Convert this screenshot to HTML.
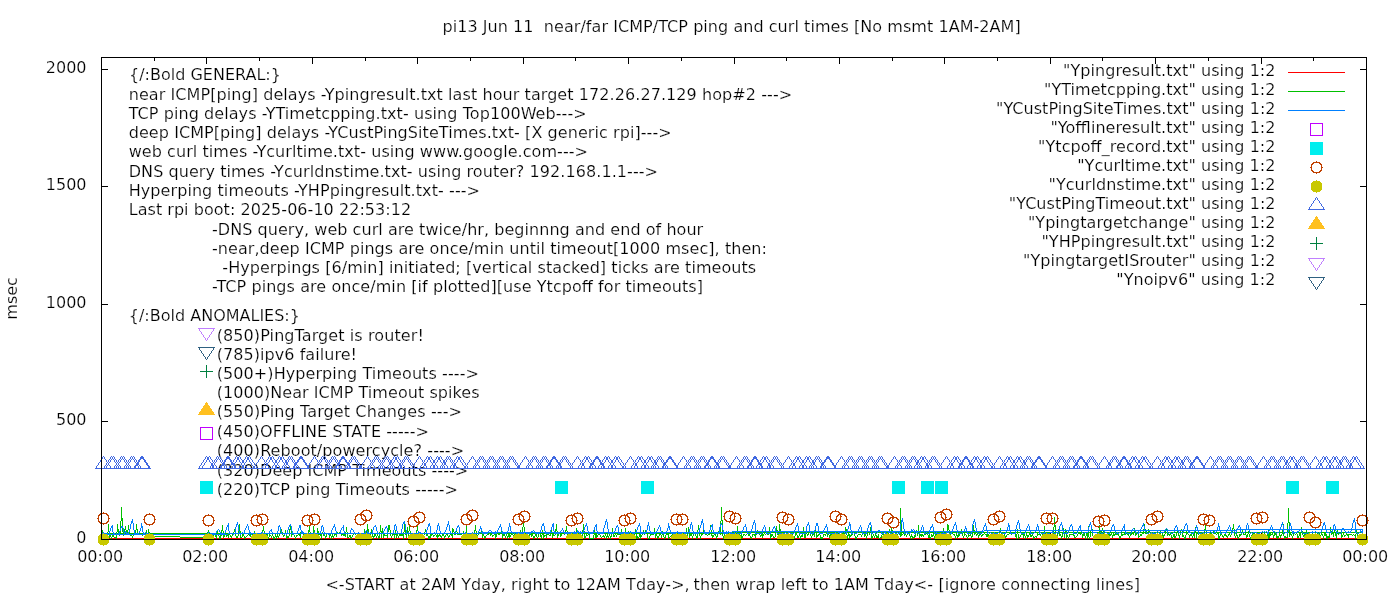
<!DOCTYPE html>
<html lang="en"><head><meta charset="utf-8"><title>pi13 ping and curl times</title>
<style>html,body{margin:0;padding:0;background:#fff}body{width:1400px;height:600px;overflow:hidden}svg{display:block}text{font-family:"DejaVu Sans","Liberation Sans",sans-serif;font-size:16px;fill:#000;white-space:pre;stroke:#fff;stroke-width:.2px}.c{shape-rendering:crispEdges}</style></head><body>
<svg width="1400" height="600" viewBox="0 0 1400 600">
<rect width="1400" height="600" fill="#fff"/>
<text x="442.5" y="32" text-anchor="start" textLength="578.2" lengthAdjust="spacing" xml:space="preserve">pi13 Jun 11  near/far ICMP/TCP ping and curl times [No msmt 1AM-2AM]</text>
<g class="c" stroke="#000" stroke-width="1" fill="none">
<path d="M101.5 539v-6M101.5 58v6M154.5 539v-3M154.5 58v3M206.5 539v-6M206.5 58v6M259.5 539v-3M259.5 58v3M312.5 539v-6M312.5 58v6M365.5 539v-3M365.5 58v3M417.5 539v-6M417.5 58v6M470.5 539v-3M470.5 58v3M523.5 539v-6M523.5 58v6M575.5 539v-3M575.5 58v3M628.5 539v-6M628.5 58v6M681.5 539v-3M681.5 58v3M734.5 539v-6M734.5 58v6M786.5 539v-3M786.5 58v3M839.5 539v-6M839.5 58v6M892.5 539v-3M892.5 58v3M944.5 539v-6M944.5 58v6M997.5 539v-3M997.5 58v3M1050.5 539v-6M1050.5 58v6M1102.5 539v-3M1102.5 58v3M1155.5 539v-6M1155.5 58v6M1208.5 539v-3M1208.5 58v3M1261.5 539v-6M1261.5 58v6M1313.5 539v-3M1313.5 58v3M1366.5 539v-6M1366.5 58v6M102 539.5h6M1366 539.5h-6M102 421.5h6M1366 421.5h-6M102 304.5h6M1366 304.5h-6M102 186.5h6M1366 186.5h-6M102 69.5h6M1366 69.5h-6"/>
</g>
<text x="86.5" y="543" text-anchor="end" xml:space="preserve">0</text>
<text x="86.5" y="425" text-anchor="end" xml:space="preserve">500</text>
<text x="86.5" y="308" text-anchor="end" xml:space="preserve">1000</text>
<text x="86.5" y="190" text-anchor="end" xml:space="preserve">1500</text>
<text x="86.5" y="73" text-anchor="end" xml:space="preserve">2000</text>
<text x="100.2" y="562" text-anchor="middle" xml:space="preserve">00:00</text>
<text x="205.2" y="562" text-anchor="middle" xml:space="preserve">02:00</text>
<text x="311.2" y="562" text-anchor="middle" xml:space="preserve">04:00</text>
<text x="416.2" y="562" text-anchor="middle" xml:space="preserve">06:00</text>
<text x="522.2" y="562" text-anchor="middle" xml:space="preserve">08:00</text>
<text x="627.2" y="562" text-anchor="middle" xml:space="preserve">10:00</text>
<text x="733.2" y="562" text-anchor="middle" xml:space="preserve">12:00</text>
<text x="838.2" y="562" text-anchor="middle" xml:space="preserve">14:00</text>
<text x="943.2" y="562" text-anchor="middle" xml:space="preserve">16:00</text>
<text x="1049.2" y="562" text-anchor="middle" xml:space="preserve">18:00</text>
<text x="1154.2" y="562" text-anchor="middle" xml:space="preserve">20:00</text>
<text x="1260.2" y="562" text-anchor="middle" xml:space="preserve">22:00</text>
<text x="1365.2" y="562" text-anchor="middle" xml:space="preserve">00:00</text>
<text transform="translate(17.2,298.4) rotate(-90)" text-anchor="middle" xml:space="preserve">msec</text>
<text y="590" xml:space="preserve"><tspan x="325.4" textLength="364.3" lengthAdjust="spacing">&lt;-START at 2AM Yday, right to 12AM Tday-&gt;,</tspan><tspan> </tspan><tspan x="693.5" textLength="446.5" lengthAdjust="spacing">then wrap left to 1AM Tday&lt;- [ignore connecting lines]</tspan></text>
<text x="129" y="80" text-anchor="start" xml:space="preserve">{/:Bold GENERAL:}</text>
<text x="128.7" y="100" text-anchor="start" textLength="663.5" lengthAdjust="spacing" xml:space="preserve">near ICMP[ping] delays -Ypingresult.txt last hour target 172.26.27.129 hop#2 ---&gt;</text>
<text x="128.7" y="119" text-anchor="start" textLength="458.0" lengthAdjust="spacing" xml:space="preserve">TCP ping delays -YTimetcpping.txt- using Top100Web---&gt;</text>
<text x="128.7" y="138" text-anchor="start" textLength="543.0" lengthAdjust="spacing" xml:space="preserve">deep ICMP[ping] delays -YCustPingSiteTimes.txt- [X generic rpi]---&gt;</text>
<text x="128.7" y="157" text-anchor="start" textLength="459.3" lengthAdjust="spacing" xml:space="preserve">web curl times -Ycurltime.txt- using www.google.com---&gt;</text>
<text x="128.7" y="177" text-anchor="start" textLength="529.3" lengthAdjust="spacing" xml:space="preserve">DNS query times -Ycurldnstime.txt- using router? 192.168.1.1---&gt;</text>
<text x="128.7" y="196" text-anchor="start" textLength="351.3" lengthAdjust="spacing" xml:space="preserve">Hyperping timeouts -YHPpingresult.txt- ---&gt;</text>
<text x="128.7" y="215" text-anchor="start" textLength="282.4" lengthAdjust="spacing" xml:space="preserve">Last rpi boot: 2025-06-10 22:53:12</text>
<text x="212" y="235" text-anchor="start" textLength="491.2" lengthAdjust="spacing" xml:space="preserve">-DNS query, web curl are twice/hr, beginnng and end of hour</text>
<text x="212" y="254" text-anchor="start" textLength="554.9" lengthAdjust="spacing" xml:space="preserve">-near,deep ICMP pings are once/min until timeout[1000 msec], then:</text>
<text x="212" y="273" text-anchor="start" textLength="544.2" lengthAdjust="spacing" xml:space="preserve">  -Hyperpings [6/min] initiated; [vertical stacked] ticks are timeouts</text>
<text x="212" y="292" text-anchor="start" textLength="491.0" lengthAdjust="spacing" xml:space="preserve">-TCP pings are once/min [if plotted][use Ytcpoff for timeouts]</text>
<text x="128.8" y="321" text-anchor="start" xml:space="preserve">{/:Bold ANOMALIES:}</text>
<text x="216.7" y="341" text-anchor="start" textLength="207.1" lengthAdjust="spacing" xml:space="preserve">(850)PingTarget is router!</text>
<text x="216.7" y="359.7" text-anchor="start" textLength="140.3" lengthAdjust="spacing" xml:space="preserve">(785)ipv6 failure!</text>
<text x="216.7" y="379" text-anchor="start" textLength="262.2" lengthAdjust="spacing" xml:space="preserve">(500+)Hyperping Timeouts ----&gt;</text>
<text x="216.7" y="398" text-anchor="start" textLength="262.8" lengthAdjust="spacing" xml:space="preserve">(1000)Near ICMP Timeout spikes</text>
<text x="216.7" y="417.4" text-anchor="start" textLength="245.3" lengthAdjust="spacing" xml:space="preserve">(550)Ping Target Changes ---&gt;</text>
<text x="216.7" y="437.4" text-anchor="start" textLength="212.2" lengthAdjust="spacing" xml:space="preserve">(450)OFFLINE STATE -----&gt;</text>
<text x="216.7" y="456.4" text-anchor="start" textLength="247.4" lengthAdjust="spacing" xml:space="preserve">(400)Reboot/powercycle? ----&gt;</text>
<text x="216.7" y="476.4" text-anchor="start" textLength="251.5" lengthAdjust="spacing" xml:space="preserve">(320)Deep ICMP Timeouts ----&gt;</text>
<text x="216.7" y="495.4" text-anchor="start" textLength="241.2" lengthAdjust="spacing" xml:space="preserve">(220)TCP ping Timeouts -----&gt;</text>
<path class="c" fill="#ff0000" d="M101 538h1262v1h-1262z"/>
<path class="c" fill="#00c000" d="M380 531h3v1h-3zM776 531h3v1h-3zM868 531h3v1h-3zM1099 531h3v1h-3zM478 532h4v1h-4zM520 532h3v1h-3zM644 532h3v1h-3zM688 532h3v1h-3zM718 532h3v1h-3zM732 532h631v1h-631zM101 533h631v1h-631zM766 533h3v1h-3zM804 533h3v1h-3zM826 533h3v1h-3zM841 533h4v1h-4zM862 533h3v1h-3zM898 533h4v1h-4zM907 533h3v1h-3zM941 533h3v1h-3zM1012 533h3v1h-3zM1044 533h3v1h-3zM1064 533h3v1h-3zM1078 533h4v1h-4zM1086 533h3v1h-3zM1131 533h3v1h-3zM1135 533h3v1h-3zM1145 533h3v1h-3zM1196 533h3v1h-3zM1213 533h3v1h-3zM1268 533h3v1h-3zM1331 533h3v1h-3zM1337 533h5v1h-5zM103 534h5v1h-5zM133 534h3v1h-3zM143 534h3v1h-3zM147 534h3v1h-3zM212 534h3v1h-3zM227 534h3v1h-3zM248 534h5v1h-5zM291 534h3v1h-3zM298 534h3v1h-3zM318 534h4v1h-4zM334 534h3v1h-3zM341 534h5v1h-5zM392 534h6v1h-6zM399 534h5v1h-5zM418 534h4v1h-4zM430 534h3v1h-3zM450 534h3v1h-3zM457 534h5v1h-5zM464 534h3v1h-3zM494 534h3v1h-3zM502 534h3v1h-3zM524 534h4v1h-4zM529 534h4v1h-4zM546 534h3v1h-3zM594 534h3v1h-3zM617 534h4v1h-4zM624 534h4v1h-4zM631 534h4v1h-4zM650 534h4v1h-4zM666 534h3v1h-3zM674 534h5v1h-5zM689 534h3v1h-3zM731 534h6v1h-6zM752 534h5v1h-5zM761 534h3v1h-3zM770 534h3v1h-3zM787 534h3v1h-3zM812 534h3v1h-3zM823 534h3v1h-3zM838 534h3v1h-3zM858 534h3v1h-3zM895 534h3v1h-3zM899 534h4v1h-4zM919 534h4v1h-4zM935 534h3v1h-3zM939 534h5v1h-5zM985 534h4v1h-4zM1021 534h4v1h-4zM1037 534h4v1h-4zM1042 534h5v1h-5zM1051 534h3v1h-3zM1069 534h5v1h-5zM1082 534h3v1h-3zM1086 534h3v1h-3zM1107 534h5v1h-5zM1113 534h6v1h-6zM1121 534h5v1h-5zM1150 534h3v1h-3zM1158 534h3v1h-3zM1167 534h4v1h-4zM1239 534h3v1h-3zM1243 534h3v1h-3zM1252 534h3v1h-3zM1267 534h6v1h-6zM1274 534h3v1h-3zM1289 534h3v1h-3zM1317 534h3v1h-3zM1324 534h3v1h-3zM1346 534h6v1h-6zM103 535h5v1h-5zM147 535h3v1h-3zM226 535h3v1h-3zM255 535h4v1h-4zM343 535h3v1h-3zM383 535h5v1h-5zM399 535h5v1h-5zM436 535h5v1h-5zM464 535h3v1h-3zM502 535h3v1h-3zM508 535h3v1h-3zM543 535h4v1h-4zM552 535h3v1h-3zM595 535h3v1h-3zM639 535h3v1h-3zM689 535h3v1h-3zM711 535h3v1h-3zM724 535h3v1h-3zM760 535h4v1h-4zM770 535h3v1h-3zM816 535h3v1h-3zM829 535h3v1h-3zM835 535h3v1h-3zM847 535h5v1h-5zM919 535h5v1h-5zM931 535h3v1h-3zM935 535h5v1h-5zM956 535h4v1h-4zM968 535h3v1h-3zM986 535h3v1h-3zM993 535h4v1h-4zM1026 535h3v1h-3zM1030 535h3v1h-3zM1042 535h5v1h-5zM1050 535h4v1h-4zM1082 535h3v1h-3zM1086 535h3v1h-3zM1108 535h3v1h-3zM1112 535h3v1h-3zM1152 535h3v1h-3zM1162 535h3v1h-3zM1189 535h3v1h-3zM1224 535h3v1h-3zM1253 535h3v1h-3zM1261 535h5v1h-5zM1267 535h4v1h-4zM1279 535h3v1h-3zM1303 535h3v1h-3zM1324 535h3v1h-3zM255 536h4v1h-4zM275 536h4v1h-4zM286 536h3v1h-3zM331 536h3v1h-3zM361 536h3v1h-3zM372 536h3v1h-3zM428 536h3v1h-3zM436 536h3v1h-3zM507 536h4v1h-4zM567 536h4v1h-4zM595 536h3v1h-3zM602 536h3v1h-3zM606 536h3v1h-3zM639 536h3v1h-3zM723 536h5v1h-5zM740 536h3v1h-3zM800 536h3v1h-3zM876 536h3v1h-3zM910 536h3v1h-3zM934 536h3v1h-3zM989 536h4v1h-4zM1050 536h4v1h-4zM1173 536h3v1h-3zM1199 536h3v1h-3zM1267 536h3v1h-3zM1276 536h3v1h-3zM1326 536h4v1h-4zM114 537h3v1h-3zM286 537h3v1h-3zM310 537h3v1h-3zM413 537h3v1h-3zM428 537h3v1h-3zM636 537h3v1h-3zM820 537h3v1h-3zM876 537h3v1h-3zM912 537h3v1h-3zM928 537h3v1h-3zM1276 537h3v1h-3zM1284 537h4v1h-4zM1326 537h4v1h-4zM589 538h5v1h-5zM726 538h3v1h-3zM820 538h3v1h-3zM1093 538h3v1h-3zM101 534h1v4h-1zM102 530h1v3h-1zM103 536h1v2h-1zM105 536h1v1h-1zM107 532h1v1h-1zM107 536h1v3h-1zM108 524h1v8h-1zM109 531h1v2h-1zM109 534h1v4h-1zM110 535h1v2h-1zM111 537h1v2h-1zM112 534h1v3h-1zM113 535h1v2h-1zM116 532h1v1h-1zM116 534h1v3h-1zM116 538h1v1h-1zM117 524h1v8h-1zM118 529h1v4h-1zM119 534h1v2h-1zM120 521h1v12h-1zM120 534h1v1h-1zM121 507h1v14h-1zM122 518h1v14h-1zM123 532h1v1h-1zM123 534h1v2h-1zM124 529h1v4h-1zM125 526h1v4h-1zM126 530h1v3h-1zM126 534h1v1h-1zM127 530h1v3h-1zM127 534h1v1h-1zM128 525h1v5h-1zM129 530h1v3h-1zM129 534h1v1h-1zM130 535h1v1h-1zM131 535h1v1h-1zM132 536h1v2h-1zM133 535h1v1h-1zM135 530h1v3h-1zM136 524h1v6h-1zM137 529h1v4h-1zM138 534h1v1h-1zM141 534h1v1h-1zM142 535h1v1h-1zM146 530h1v3h-1zM147 536h1v1h-1zM148 529h1v4h-1zM149 532h1v1h-1zM206 535h1v2h-1zM207 532h1v1h-1zM207 534h1v1h-1zM208 530h1v3h-1zM209 534h1v5h-1zM210 534h1v2h-1zM212 535h1v1h-1zM213 535h1v4h-1zM215 535h1v2h-1zM216 535h1v4h-1zM217 531h1v2h-1zM217 534h1v1h-1zM218 534h1v2h-1zM219 536h1v3h-1zM220 534h1v5h-1zM221 530h1v3h-1zM221 534h1v2h-1zM222 525h1v6h-1zM223 531h1v2h-1zM223 534h1v4h-1zM224 535h1v2h-1zM225 534h1v1h-1zM226 536h1v1h-1zM228 536h1v2h-1zM230 535h1v2h-1zM231 536h1v2h-1zM232 534h1v2h-1zM233 532h1v1h-1zM234 529h1v3h-1zM235 531h1v2h-1zM235 534h1v2h-1zM236 536h1v2h-1zM237 536h1v2h-1zM238 529h1v4h-1zM238 534h1v2h-1zM239 524h1v7h-1zM240 531h1v2h-1zM240 534h1v4h-1zM241 537h1v1h-1zM242 534h1v3h-1zM243 534h1v2h-1zM244 536h1v3h-1zM245 537h1v1h-1zM246 536h1v1h-1zM247 535h1v1h-1zM249 530h1v3h-1zM249 535h1v1h-1zM250 535h1v2h-1zM254 531h1v2h-1zM254 534h1v1h-1zM255 537h1v2h-1zM256 534h1v1h-1zM259 537h1v2h-1zM260 534h1v3h-1zM261 536h1v2h-1zM262 530h1v3h-1zM262 534h1v2h-1zM263 526h1v5h-1zM264 531h1v2h-1zM264 534h1v2h-1zM265 536h1v2h-1zM266 534h1v2h-1zM267 534h1v3h-1zM268 537h1v2h-1zM269 534h1v3h-1zM270 535h1v1h-1zM271 536h1v2h-1zM272 534h1v2h-1zM273 536h1v3h-1zM274 537h1v2h-1zM275 534h1v2h-1zM276 537h1v2h-1zM277 534h1v2h-1zM278 537h1v1h-1zM279 534h1v2h-1zM280 531h1v2h-1zM281 529h1v3h-1zM282 532h1v1h-1zM282 534h1v1h-1zM283 535h1v2h-1zM284 534h1v2h-1zM285 530h1v3h-1zM286 534h1v2h-1zM286 538h1v1h-1zM289 529h1v4h-1zM289 534h1v2h-1zM290 524h1v6h-1zM291 530h1v3h-1zM291 535h1v2h-1zM294 535h1v2h-1zM295 537h1v2h-1zM296 535h1v2h-1zM297 535h1v1h-1zM299 535h1v1h-1zM300 532h1v1h-1zM300 535h1v3h-1zM301 530h1v2h-1zM302 531h1v2h-1zM303 534h1v1h-1zM304 534h1v1h-1zM305 535h1v3h-1zM306 534h1v2h-1zM307 534h1v1h-1zM308 530h1v3h-1zM309 525h1v7h-1zM310 532h1v1h-1zM310 534h1v3h-1zM310 538h1v1h-1zM312 534h1v3h-1zM312 538h1v1h-1zM313 526h1v7h-1zM314 530h1v3h-1zM314 534h1v4h-1zM315 538h1v1h-1zM316 534h1v4h-1zM317 528h1v5h-1zM318 531h1v2h-1zM320 535h1v1h-1zM321 535h1v4h-1zM322 532h1v1h-1zM323 534h1v2h-1zM324 534h1v2h-1zM325 536h1v3h-1zM326 534h1v3h-1zM328 534h1v1h-1zM329 535h1v3h-1zM330 534h1v2h-1zM331 537h1v2h-1zM332 534h1v2h-1zM333 537h1v1h-1zM334 535h1v1h-1zM336 531h1v2h-1zM336 535h1v2h-1zM337 532h1v1h-1zM339 532h1v1h-1zM341 535h1v1h-1zM345 532h1v1h-1zM345 536h1v1h-1zM346 527h1v5h-1zM347 532h1v1h-1zM347 534h1v4h-1zM348 537h1v1h-1zM349 535h1v2h-1zM350 535h1v3h-1zM351 537h1v2h-1zM352 535h1v2h-1zM353 534h1v1h-1zM354 532h1v1h-1zM355 534h1v1h-1zM356 535h1v2h-1zM357 534h1v2h-1zM358 536h1v3h-1zM359 536h1v2h-1zM360 534h1v2h-1zM361 537h1v1h-1zM362 535h1v1h-1zM363 534h1v2h-1zM363 537h1v2h-1zM364 529h1v4h-1zM365 534h1v4h-1zM366 531h1v2h-1zM366 534h1v4h-1zM367 524h1v7h-1zM368 529h1v4h-1zM368 534h1v1h-1zM369 535h1v2h-1zM370 532h1v1h-1zM370 534h1v2h-1zM371 529h1v4h-1zM372 534h1v2h-1zM373 537h1v2h-1zM374 534h1v2h-1zM375 534h1v2h-1zM376 536h1v2h-1zM377 534h1v2h-1zM378 536h1v3h-1zM379 532h1v1h-1zM379 534h1v4h-1zM380 525h1v6h-1zM381 532h1v1h-1zM381 534h1v4h-1zM382 528h1v3h-1zM382 532h1v1h-1zM383 534h1v1h-1zM383 536h1v2h-1zM384 534h1v1h-1zM387 532h1v1h-1zM387 534h1v1h-1zM387 536h1v2h-1zM388 525h1v7h-1zM389 525h1v5h-1zM390 530h1v3h-1zM390 534h1v2h-1zM391 536h1v2h-1zM392 535h1v1h-1zM394 535h1v4h-1zM395 530h1v3h-1zM396 535h1v3h-1zM397 535h1v1h-1zM398 536h1v2h-1zM403 532h1v1h-1zM403 536h1v3h-1zM404 524h1v8h-1zM405 529h1v4h-1zM405 534h1v1h-1zM406 534h1v4h-1zM407 527h1v6h-1zM408 531h1v2h-1zM408 534h1v4h-1zM409 524h1v7h-1zM410 531h1v2h-1zM410 534h1v5h-1zM411 537h1v1h-1zM412 535h1v2h-1zM413 538h1v1h-1zM415 536h1v1h-1zM415 538h1v1h-1zM416 530h1v3h-1zM416 534h1v2h-1zM417 524h1v7h-1zM418 531h1v2h-1zM418 535h1v4h-1zM419 535h1v1h-1zM421 535h1v1h-1zM422 536h1v2h-1zM423 535h1v3h-1zM424 532h1v1h-1zM424 534h1v1h-1zM425 529h1v3h-1zM426 532h1v1h-1zM426 534h1v2h-1zM427 534h1v2h-1zM428 538h1v1h-1zM429 538h1v1h-1zM430 535h1v1h-1zM431 535h1v1h-1zM433 535h1v2h-1zM434 535h1v1h-1zM435 534h1v1h-1zM437 534h1v1h-1zM437 537h1v2h-1zM439 534h1v1h-1zM440 536h1v1h-1zM441 536h1v2h-1zM442 534h1v2h-1zM443 534h1v2h-1zM444 536h1v3h-1zM445 535h1v2h-1zM446 534h1v1h-1zM447 534h1v2h-1zM448 536h1v2h-1zM449 535h1v2h-1zM451 535h1v1h-1zM452 528h1v5h-1zM452 535h1v3h-1zM453 529h1v3h-1zM454 532h1v1h-1zM454 534h1v1h-1zM455 532h1v1h-1zM455 534h1v1h-1zM456 529h1v3h-1zM457 532h1v1h-1zM463 531h1v2h-1zM465 532h1v1h-1zM465 536h1v2h-1zM466 525h1v8h-1zM467 536h1v1h-1zM468 535h1v1h-1zM469 536h1v1h-1zM470 534h1v2h-1zM471 534h1v2h-1zM472 536h1v3h-1zM473 534h1v3h-1zM474 530h1v3h-1zM474 534h1v2h-1zM475 525h1v6h-1zM476 531h1v2h-1zM476 534h1v4h-1zM477 535h1v3h-1zM478 531h1v1h-1zM478 534h1v1h-1zM481 530h1v2h-1zM482 534h1v4h-1zM483 534h1v2h-1zM484 536h1v3h-1zM485 536h1v2h-1zM486 535h1v1h-1zM487 534h1v1h-1zM488 534h1v1h-1zM490 534h1v2h-1zM491 534h1v1h-1zM492 535h1v2h-1zM493 535h1v1h-1zM495 535h1v4h-1zM496 535h1v2h-1zM498 534h1v1h-1zM499 534h1v1h-1zM501 531h1v2h-1zM502 536h1v3h-1zM505 536h1v2h-1zM506 534h1v2h-1zM507 537h1v2h-1zM508 534h1v1h-1zM509 534h1v1h-1zM509 537h1v1h-1zM511 534h1v1h-1zM512 534h1v1h-1zM513 535h1v2h-1zM514 534h1v2h-1zM517 534h1v2h-1zM518 536h1v3h-1zM519 534h1v4h-1zM520 530h1v2h-1zM521 534h1v1h-1zM522 527h1v5h-1zM522 534h1v1h-1zM523 518h1v9h-1zM524 527h1v6h-1zM524 535h1v3h-1zM525 535h1v1h-1zM527 535h1v1h-1zM528 536h1v2h-1zM529 535h1v1h-1zM531 535h1v2h-1zM532 535h1v1h-1zM533 536h1v3h-1zM534 536h1v2h-1zM535 534h1v2h-1zM536 534h1v3h-1zM537 537h1v2h-1zM538 534h1v3h-1zM540 534h1v3h-1zM541 535h1v4h-1zM542 530h1v3h-1zM542 534h1v1h-1zM543 534h1v1h-1zM543 536h1v3h-1zM544 536h1v1h-1zM546 536h1v2h-1zM549 535h1v1h-1zM550 534h1v2h-1zM551 530h1v3h-1zM552 534h1v1h-1zM552 536h1v2h-1zM553 534h1v1h-1zM555 529h1v4h-1zM555 534h1v1h-1zM556 524h1v7h-1zM557 531h1v2h-1zM557 534h1v4h-1zM558 534h1v2h-1zM560 534h1v3h-1zM561 534h1v2h-1zM562 532h1v1h-1zM563 530h1v2h-1zM564 532h1v1h-1zM564 534h1v1h-1zM565 530h1v3h-1zM566 526h1v5h-1zM567 531h1v2h-1zM567 534h1v2h-1zM568 537h1v2h-1zM569 534h1v2h-1zM570 537h1v1h-1zM571 534h1v2h-1zM572 534h1v1h-1zM574 534h1v4h-1zM575 534h1v5h-1zM576 528h1v5h-1zM577 531h1v2h-1zM577 534h1v1h-1zM580 534h1v1h-1zM581 535h1v2h-1zM582 530h1v3h-1zM582 534h1v5h-1zM583 524h1v7h-1zM584 531h1v2h-1zM584 534h1v5h-1zM585 536h1v2h-1zM586 534h1v2h-1zM587 535h1v1h-1zM588 534h1v1h-1zM589 534h1v4h-1zM593 535h1v3h-1zM594 530h1v3h-1zM595 537h1v1h-1zM596 537h1v1h-1zM598 534h1v1h-1zM599 534h1v1h-1zM600 535h1v2h-1zM601 537h1v1h-1zM603 535h1v1h-1zM604 537h1v1h-1zM605 534h1v2h-1zM606 537h1v2h-1zM607 534h1v2h-1zM608 537h1v1h-1zM609 534h1v2h-1zM610 536h1v3h-1zM611 532h1v1h-1zM611 534h1v3h-1zM612 528h1v4h-1zM613 532h1v1h-1zM613 534h1v3h-1zM614 535h1v2h-1zM615 534h1v1h-1zM616 535h1v2h-1zM618 532h1v1h-1zM620 535h1v1h-1zM621 529h1v4h-1zM622 532h1v1h-1zM622 534h1v2h-1zM623 536h1v3h-1zM624 535h1v1h-1zM625 528h1v5h-1zM626 535h1v4h-1zM627 535h1v1h-1zM628 531h1v2h-1zM629 534h1v2h-1zM630 536h1v3h-1zM631 535h1v1h-1zM633 535h1v2h-1zM634 535h1v4h-1zM635 529h1v4h-1zM636 534h1v3h-1zM636 538h1v1h-1zM637 536h1v1h-1zM638 538h1v1h-1zM639 534h1v1h-1zM640 534h1v1h-1zM640 537h1v2h-1zM642 532h1v1h-1zM642 534h1v1h-1zM643 530h1v2h-1zM644 534h1v1h-1zM645 530h1v2h-1zM647 534h1v4h-1zM648 538h1v1h-1zM649 536h1v3h-1zM650 535h1v1h-1zM654 528h1v5h-1zM655 534h1v4h-1zM656 534h1v2h-1zM657 536h1v3h-1zM658 536h1v2h-1zM659 534h1v2h-1zM660 534h1v1h-1zM661 535h1v3h-1zM662 531h1v2h-1zM662 534h1v1h-1zM663 534h1v3h-1zM664 537h1v2h-1zM665 535h1v3h-1zM668 535h1v4h-1zM669 537h1v1h-1zM670 536h1v1h-1zM671 535h1v1h-1zM672 534h1v2h-1zM673 536h1v2h-1zM674 535h1v1h-1zM676 535h1v3h-1zM678 535h1v1h-1zM679 536h1v2h-1zM680 534h1v2h-1zM682 534h1v1h-1zM684 534h1v1h-1zM685 532h1v1h-1zM685 534h1v1h-1zM686 528h1v5h-1zM687 534h1v4h-1zM688 527h1v5h-1zM689 536h1v2h-1zM692 536h1v3h-1zM693 534h1v2h-1zM695 534h1v2h-1zM696 536h1v3h-1zM697 530h1v3h-1zM697 534h1v4h-1zM698 525h1v5h-1zM699 530h1v3h-1zM699 534h1v2h-1zM700 536h1v3h-1zM701 534h1v2h-1zM702 534h1v1h-1zM703 530h1v3h-1zM704 532h1v1h-1zM705 534h1v1h-1zM706 534h1v1h-1zM707 535h1v1h-1zM708 534h1v1h-1zM709 530h1v3h-1zM709 534h1v1h-1zM710 525h1v5h-1zM711 530h1v3h-1zM711 534h1v1h-1zM712 536h1v2h-1zM713 536h1v1h-1zM714 534h1v1h-1zM715 534h1v2h-1zM716 536h1v3h-1zM717 534h1v3h-1zM718 531h1v1h-1zM720 521h1v11h-1zM720 534h1v1h-1zM721 507h1v14h-1zM722 520h1v13h-1zM722 534h1v2h-1zM723 537h1v2h-1zM724 534h1v1h-1zM726 534h1v1h-1zM726 537h1v1h-1zM727 537h1v1h-1zM729 537h1v1h-1zM730 535h1v2h-1zM734 535h1v1h-1zM736 533h1v1h-1zM736 535h1v2h-1zM737 526h1v6h-1zM738 531h1v1h-1zM738 533h1v4h-1zM739 533h1v2h-1zM740 535h1v1h-1zM741 534h1v2h-1zM741 537h1v2h-1zM742 537h1v1h-1zM743 534h1v2h-1zM744 534h1v1h-1zM745 535h1v1h-1zM746 534h1v1h-1zM747 533h1v1h-1zM748 534h1v2h-1zM749 534h1v2h-1zM750 536h1v2h-1zM751 537h1v2h-1zM752 535h1v2h-1zM754 535h1v1h-1zM755 535h1v3h-1zM756 533h1v1h-1zM757 530h1v2h-1zM758 533h1v1h-1zM759 534h1v1h-1zM760 536h1v1h-1zM761 533h1v1h-1zM762 529h1v3h-1zM762 533h1v1h-1zM762 536h1v2h-1zM764 533h1v1h-1zM765 534h1v1h-1zM767 534h1v1h-1zM768 531h1v1h-1zM768 534h1v1h-1zM769 527h1v4h-1zM770 531h1v1h-1zM770 533h1v1h-1zM770 536h1v3h-1zM771 536h1v1h-1zM773 536h1v2h-1zM774 537h1v1h-1zM775 533h1v4h-1zM776 526h1v5h-1zM777 530h1v1h-1zM777 533h1v2h-1zM778 533h1v5h-1zM779 524h1v7h-1zM780 529h1v3h-1zM780 533h1v3h-1zM781 536h1v2h-1zM782 534h1v2h-1zM783 536h1v2h-1zM784 534h1v3h-1zM785 537h1v2h-1zM786 535h1v2h-1zM787 533h1v1h-1zM790 533h1v1h-1zM791 534h1v2h-1zM792 534h1v2h-1zM793 536h1v3h-1zM794 536h1v3h-1zM795 533h1v3h-1zM796 533h1v2h-1zM797 535h1v3h-1zM798 536h1v2h-1zM799 533h1v3h-1zM800 537h1v2h-1zM801 535h1v1h-1zM802 533h1v3h-1zM803 527h1v5h-1zM804 534h1v4h-1zM805 534h1v4h-1zM806 528h1v4h-1zM807 534h1v2h-1zM808 531h1v1h-1zM808 533h1v2h-1zM809 527h1v4h-1zM810 531h1v1h-1zM810 533h1v3h-1zM811 536h1v2h-1zM812 535h1v1h-1zM813 533h1v1h-1zM814 533h1v1h-1zM814 535h1v2h-1zM815 526h1v6h-1zM816 533h1v2h-1zM816 536h1v2h-1zM817 536h1v1h-1zM818 534h1v1h-1zM819 531h1v1h-1zM819 533h1v2h-1zM820 535h1v2h-1zM823 535h1v2h-1zM825 535h1v1h-1zM826 531h1v1h-1zM827 534h1v3h-1zM828 534h1v1h-1zM829 536h1v2h-1zM830 534h1v1h-1zM831 534h1v1h-1zM832 536h1v2h-1zM833 533h1v3h-1zM834 533h1v2h-1zM835 536h1v3h-1zM836 536h1v1h-1zM838 533h1v1h-1zM840 535h1v1h-1zM842 534h1v3h-1zM844 531h1v1h-1zM845 527h1v4h-1zM846 529h1v3h-1zM846 533h1v2h-1zM847 536h1v3h-1zM848 533h1v2h-1zM849 534h1v1h-1zM849 536h1v3h-1zM850 536h1v1h-1zM851 534h1v1h-1zM852 533h1v2h-1zM853 531h1v1h-1zM854 533h1v3h-1zM855 536h1v3h-1zM856 537h1v2h-1zM857 535h1v2h-1zM861 535h1v2h-1zM862 534h1v1h-1zM864 534h1v3h-1zM865 534h1v2h-1zM866 536h1v3h-1zM867 533h1v3h-1zM869 533h1v2h-1zM870 527h1v4h-1zM871 533h1v6h-1zM872 536h1v2h-1zM873 534h1v2h-1zM874 536h1v2h-1zM875 533h1v3h-1zM876 535h1v1h-1zM878 534h1v2h-1zM879 538h1v1h-1zM880 537h1v1h-1zM881 535h1v3h-1zM882 533h1v2h-1zM883 534h1v3h-1zM884 537h1v2h-1zM885 533h1v5h-1zM886 533h1v3h-1zM887 536h1v3h-1zM888 533h1v3h-1zM889 529h1v3h-1zM890 531h1v1h-1zM890 533h1v2h-1zM891 527h1v4h-1zM892 530h1v2h-1zM892 533h1v1h-1zM893 533h1v5h-1zM894 535h1v2h-1zM895 533h1v1h-1zM900 508h1v24h-1zM900 535h1v2h-1zM901 522h1v10h-1zM901 535h1v1h-1zM903 533h1v1h-1zM904 534h1v2h-1zM905 533h1v2h-1zM906 535h1v2h-1zM907 534h1v1h-1zM909 534h1v2h-1zM910 537h1v2h-1zM911 534h1v2h-1zM912 538h1v1h-1zM914 535h1v2h-1zM915 533h1v4h-1zM916 530h1v2h-1zM917 531h1v1h-1zM917 533h1v3h-1zM918 525h1v6h-1zM919 531h1v1h-1zM919 533h1v1h-1zM919 536h1v2h-1zM921 536h1v1h-1zM923 536h1v1h-1zM924 533h1v2h-1zM925 534h1v1h-1zM926 533h1v1h-1zM927 533h1v2h-1zM928 535h1v2h-1zM929 531h1v1h-1zM929 533h1v4h-1zM930 538h1v1h-1zM931 534h1v1h-1zM931 536h1v1h-1zM932 536h1v1h-1zM933 533h1v2h-1zM934 537h1v2h-1zM936 531h1v1h-1zM936 533h1v1h-1zM936 537h1v1h-1zM937 533h1v1h-1zM938 536h1v2h-1zM939 533h1v1h-1zM942 535h1v3h-1zM943 528h1v4h-1zM943 535h1v1h-1zM944 536h1v2h-1zM945 538h1v1h-1zM946 531h1v1h-1zM946 533h1v5h-1zM947 524h1v7h-1zM948 525h1v5h-1zM949 530h1v2h-1zM949 533h1v2h-1zM950 534h1v3h-1zM951 533h1v1h-1zM952 533h1v1h-1zM953 534h1v1h-1zM954 534h1v2h-1zM955 536h1v3h-1zM956 533h1v2h-1zM957 536h1v2h-1zM958 533h1v2h-1zM958 536h1v1h-1zM959 534h1v1h-1zM960 533h1v1h-1zM961 529h1v3h-1zM962 533h1v3h-1zM963 536h1v2h-1zM964 533h1v3h-1zM965 534h1v1h-1zM966 535h1v2h-1zM967 537h1v2h-1zM968 534h1v1h-1zM968 536h1v1h-1zM970 534h1v1h-1zM971 536h1v2h-1zM972 531h1v1h-1zM972 533h1v4h-1zM973 525h1v6h-1zM974 530h1v2h-1zM974 533h1v2h-1zM975 533h1v1h-1zM976 534h1v2h-1zM977 533h1v2h-1zM978 535h1v3h-1zM979 534h1v2h-1zM980 533h1v2h-1zM981 535h1v2h-1zM982 534h1v2h-1zM983 534h1v1h-1zM984 533h1v1h-1zM986 536h1v1h-1zM987 530h1v2h-1zM987 533h1v1h-1zM987 536h1v1h-1zM989 537h1v2h-1zM990 534h1v2h-1zM991 537h1v1h-1zM992 537h1v1h-1zM993 533h1v2h-1zM994 534h1v1h-1zM994 536h1v2h-1zM995 536h1v1h-1zM996 534h1v1h-1zM997 536h1v3h-1zM998 536h1v2h-1zM999 533h1v3h-1zM1000 528h1v4h-1zM1001 533h1v4h-1zM1002 534h1v2h-1zM1003 536h1v2h-1zM1004 534h1v2h-1zM1005 536h1v2h-1zM1006 535h1v2h-1zM1007 534h1v1h-1zM1008 534h1v1h-1zM1009 533h1v1h-1zM1010 533h1v1h-1zM1011 534h1v1h-1zM1015 534h1v3h-1zM1016 534h1v5h-1zM1017 529h1v3h-1zM1017 533h1v1h-1zM1018 534h1v5h-1zM1019 537h1v1h-1zM1020 535h1v2h-1zM1021 533h1v1h-1zM1022 533h1v1h-1zM1023 535h1v3h-1zM1024 535h1v1h-1zM1025 536h1v3h-1zM1026 533h1v2h-1zM1027 536h1v2h-1zM1028 536h1v1h-1zM1029 533h1v2h-1zM1030 534h1v1h-1zM1030 536h1v1h-1zM1031 536h1v1h-1zM1032 533h1v2h-1zM1033 536h1v3h-1zM1034 537h1v1h-1zM1035 536h1v1h-1zM1036 536h1v2h-1zM1037 533h1v1h-1zM1037 535h1v1h-1zM1040 535h1v1h-1zM1041 536h1v2h-1zM1044 526h1v6h-1zM1044 536h1v2h-1zM1045 536h1v3h-1zM1047 536h1v3h-1zM1048 533h1v3h-1zM1049 533h1v2h-1zM1050 537h1v1h-1zM1052 530h1v2h-1zM1052 533h1v1h-1zM1052 537h1v2h-1zM1053 527h1v5h-1zM1053 533h1v1h-1zM1054 517h1v10h-1zM1055 525h1v7h-1zM1055 533h1v2h-1zM1056 535h1v3h-1zM1057 533h1v4h-1zM1058 529h1v3h-1zM1059 533h1v3h-1zM1060 534h1v2h-1zM1061 536h1v3h-1zM1062 533h1v4h-1zM1063 528h1v4h-1zM1064 534h1v4h-1zM1065 529h1v3h-1zM1066 531h1v1h-1zM1066 534h1v5h-1zM1067 535h1v2h-1zM1068 537h1v2h-1zM1069 535h1v2h-1zM1073 533h1v1h-1zM1073 535h1v1h-1zM1074 535h1v3h-1zM1075 537h1v1h-1zM1076 536h1v1h-1zM1077 534h1v2h-1zM1080 534h1v1h-1zM1081 530h1v2h-1zM1082 536h1v2h-1zM1083 533h1v1h-1zM1084 533h1v1h-1zM1085 536h1v3h-1zM1087 536h1v3h-1zM1088 526h1v6h-1zM1088 536h1v1h-1zM1089 537h1v2h-1zM1090 530h1v2h-1zM1090 533h1v4h-1zM1091 525h1v5h-1zM1092 529h1v3h-1zM1092 533h1v3h-1zM1093 536h1v2h-1zM1095 537h1v1h-1zM1096 537h1v1h-1zM1097 538h1v1h-1zM1098 533h1v5h-1zM1099 525h1v6h-1zM1100 530h1v1h-1zM1100 533h1v2h-1zM1101 533h1v1h-1zM1102 528h1v3h-1zM1103 531h1v1h-1zM1103 533h1v1h-1zM1104 534h1v2h-1zM1105 536h1v2h-1zM1106 535h1v3h-1zM1107 533h1v1h-1zM1108 536h1v1h-1zM1109 533h1v1h-1zM1111 533h1v1h-1zM1112 536h1v2h-1zM1113 533h1v1h-1zM1115 533h1v1h-1zM1117 533h1v1h-1zM1118 535h1v1h-1zM1119 536h1v3h-1zM1120 536h1v2h-1zM1121 533h1v1h-1zM1121 535h1v1h-1zM1122 535h1v1h-1zM1124 533h1v1h-1zM1126 533h1v1h-1zM1127 534h1v1h-1zM1128 534h1v2h-1zM1129 536h1v2h-1zM1130 534h1v2h-1zM1131 534h1v1h-1zM1133 534h1v1h-1zM1134 528h1v4h-1zM1135 534h1v2h-1zM1136 534h1v1h-1zM1138 534h1v4h-1zM1139 536h1v1h-1zM1140 534h1v2h-1zM1141 534h1v2h-1zM1142 533h1v1h-1zM1143 529h1v3h-1zM1143 533h1v1h-1zM1144 524h1v5h-1zM1145 529h1v3h-1zM1146 531h1v1h-1zM1148 529h1v3h-1zM1149 530h1v2h-1zM1150 533h1v1h-1zM1150 535h1v1h-1zM1151 533h1v1h-1zM1154 534h1v1h-1zM1155 536h1v2h-1zM1156 534h1v2h-1zM1157 533h1v1h-1zM1158 535h1v1h-1zM1159 533h1v1h-1zM1160 530h1v2h-1zM1160 533h1v1h-1zM1160 535h1v1h-1zM1161 536h1v3h-1zM1162 533h1v2h-1zM1163 536h1v2h-1zM1164 534h1v1h-1zM1165 531h1v1h-1zM1165 533h1v1h-1zM1166 528h1v3h-1zM1167 531h1v1h-1zM1167 533h1v1h-1zM1167 535h1v1h-1zM1168 533h1v1h-1zM1169 535h1v1h-1zM1170 533h1v1h-1zM1171 535h1v3h-1zM1172 537h1v2h-1zM1173 534h1v2h-1zM1174 534h1v2h-1zM1174 537h1v1h-1zM1175 537h1v1h-1zM1176 533h1v3h-1zM1177 530h1v2h-1zM1178 533h1v3h-1zM1179 535h1v4h-1zM1180 531h1v1h-1zM1180 533h1v2h-1zM1181 529h1v2h-1zM1182 531h1v1h-1zM1182 533h1v4h-1zM1183 535h1v2h-1zM1184 537h1v2h-1zM1185 535h1v4h-1zM1186 531h1v1h-1zM1186 533h1v2h-1zM1187 533h1v1h-1zM1188 534h1v1h-1zM1189 536h1v2h-1zM1190 534h1v1h-1zM1191 534h1v1h-1zM1192 536h1v2h-1zM1193 534h1v2h-1zM1194 533h1v5h-1zM1195 527h1v5h-1zM1196 534h1v5h-1zM1198 534h1v1h-1zM1199 535h1v1h-1zM1199 537h1v1h-1zM1201 537h1v1h-1zM1202 533h1v3h-1zM1203 534h1v4h-1zM1204 529h1v3h-1zM1204 533h1v1h-1zM1205 524h1v6h-1zM1206 530h1v2h-1zM1206 533h1v4h-1zM1207 536h1v1h-1zM1208 535h1v1h-1zM1209 534h1v1h-1zM1210 533h1v1h-1zM1211 533h1v2h-1zM1212 534h1v3h-1zM1213 530h1v2h-1zM1216 534h1v1h-1zM1217 533h1v1h-1zM1218 533h1v6h-1zM1219 536h1v3h-1zM1220 533h1v3h-1zM1221 533h1v2h-1zM1222 535h1v2h-1zM1223 536h1v2h-1zM1224 534h1v1h-1zM1225 534h1v1h-1zM1226 536h1v1h-1zM1227 536h1v2h-1zM1228 534h1v2h-1zM1229 533h1v2h-1zM1230 535h1v2h-1zM1231 533h1v2h-1zM1232 528h1v4h-1zM1233 524h1v5h-1zM1234 529h1v3h-1zM1234 533h1v3h-1zM1235 536h1v2h-1zM1236 533h1v3h-1zM1237 535h1v3h-1zM1238 537h1v2h-1zM1239 535h1v2h-1zM1240 535h1v1h-1zM1241 533h1v1h-1zM1242 530h1v2h-1zM1243 533h1v1h-1zM1245 533h1v1h-1zM1246 535h1v3h-1zM1247 534h1v3h-1zM1248 531h1v1h-1zM1248 533h1v1h-1zM1249 534h1v3h-1zM1250 537h1v2h-1zM1251 535h1v2h-1zM1253 533h1v1h-1zM1254 533h1v1h-1zM1254 536h1v3h-1zM1255 536h1v2h-1zM1256 538h1v1h-1zM1257 535h1v3h-1zM1258 533h1v2h-1zM1259 533h1v3h-1zM1260 536h1v2h-1zM1261 534h1v1h-1zM1261 536h1v2h-1zM1262 533h1v2h-1zM1263 536h1v2h-1zM1264 533h1v2h-1zM1265 534h1v1h-1zM1265 536h1v1h-1zM1266 537h1v2h-1zM1268 529h1v3h-1zM1268 537h1v2h-1zM1269 537h1v1h-1zM1272 533h1v1h-1zM1273 535h1v3h-1zM1274 533h1v1h-1zM1274 535h1v1h-1zM1275 533h1v1h-1zM1276 535h1v1h-1zM1277 538h1v1h-1zM1279 533h1v2h-1zM1280 536h1v2h-1zM1281 534h1v1h-1zM1282 529h1v3h-1zM1282 533h1v1h-1zM1283 524h1v8h-1zM1283 533h1v3h-1zM1284 536h1v1h-1zM1284 538h1v1h-1zM1285 536h1v1h-1zM1287 523h1v9h-1zM1287 533h1v4h-1zM1288 508h1v15h-1zM1289 522h1v10h-1zM1289 533h1v1h-1zM1289 535h1v2h-1zM1290 533h1v1h-1zM1291 535h1v1h-1zM1292 536h1v3h-1zM1293 533h1v3h-1zM1294 533h1v1h-1zM1295 534h1v1h-1zM1296 533h1v1h-1zM1297 534h1v4h-1zM1298 536h1v2h-1zM1299 533h1v3h-1zM1300 533h1v5h-1zM1301 527h1v5h-1zM1302 531h1v1h-1zM1302 533h1v2h-1zM1303 536h1v1h-1zM1304 534h1v1h-1zM1305 533h1v2h-1zM1305 536h1v2h-1zM1306 530h1v2h-1zM1307 533h1v3h-1zM1308 536h1v3h-1zM1309 537h1v1h-1zM1310 536h1v1h-1zM1311 535h1v2h-1zM1312 533h1v3h-1zM1313 536h1v2h-1zM1314 534h1v2h-1zM1315 534h1v2h-1zM1316 536h1v3h-1zM1317 533h1v1h-1zM1317 535h1v1h-1zM1319 533h1v1h-1zM1319 535h1v1h-1zM1320 535h1v1h-1zM1321 533h1v2h-1zM1322 534h1v2h-1zM1323 536h1v3h-1zM1324 533h1v1h-1zM1325 533h1v1h-1zM1326 538h1v1h-1zM1327 538h1v1h-1zM1329 533h1v3h-1zM1330 527h1v5h-1zM1331 531h1v1h-1zM1331 534h1v1h-1zM1333 534h1v3h-1zM1334 529h1v3h-1zM1335 533h1v3h-1zM1336 534h1v5h-1zM1337 529h1v3h-1zM1338 534h1v1h-1zM1341 534h1v4h-1zM1342 535h1v2h-1zM1343 533h1v2h-1zM1344 535h1v2h-1zM1345 535h1v1h-1zM1346 533h1v1h-1zM1347 535h1v1h-1zM1348 535h1v3h-1zM1352 535h1v1h-1zM1353 534h1v1h-1zM1354 535h1v1h-1zM1355 534h1v5h-1zM1356 529h1v3h-1zM1356 533h1v1h-1zM1357 533h1v5h-1zM1358 536h1v2h-1zM1359 534h1v2h-1zM1360 536h1v2h-1zM1361 536h1v2h-1zM1362 533h1v3h-1z"/>
<path class="c" d="M150 536.5H180M180 537.5H205" stroke="#00c000" fill="none"/>
<path class="c" fill="#0080ff" d="M1236 529h127v1h-127zM984 530h253v1h-253zM732 531h252v1h-252zM1360 531h3v1h-3zM124 532h3v1h-3zM301 532h3v1h-3zM418 532h3v1h-3zM480 532h252v1h-252zM838 532h5v1h-5zM873 532h3v1h-3zM892 532h3v1h-3zM946 532h3v1h-3zM1050 532h4v1h-4zM1056 532h3v1h-3zM1084 532h4v1h-4zM1092 532h5v1h-5zM1160 532h4v1h-4zM1188 532h3v1h-3zM1205 532h5v1h-5zM1222 532h5v1h-5zM1231 532h3v1h-3zM1242 532h3v1h-3zM1253 532h4v1h-4zM1285 532h3v1h-3zM1292 532h6v1h-6zM1310 532h5v1h-5zM1326 532h3v1h-3zM1336 532h3v1h-3zM1345 532h6v1h-6zM104 533h4v1h-4zM126 533h3v1h-3zM134 533h5v1h-5zM146 533h3v1h-3zM210 533h6v1h-6zM220 533h5v1h-5zM228 533h252v1h-252zM482 533h6v1h-6zM492 533h5v1h-5zM502 533h5v1h-5zM519 533h6v1h-6zM526 533h5v1h-5zM535 533h5v1h-5zM545 533h5v1h-5zM554 533h6v1h-6zM564 533h7v1h-7zM573 533h4v1h-4zM588 533h5v1h-5zM597 533h7v1h-7zM608 533h6v1h-6zM618 533h11v1h-11zM632 533h3v1h-3zM640 533h6v1h-6zM650 533h6v1h-6zM661 533h5v1h-5zM671 533h6v1h-6zM678 533h5v1h-5zM684 533h3v1h-3zM693 533h6v1h-6zM704 533h5v1h-5zM714 533h5v1h-5zM723 533h5v1h-5zM729 533h6v1h-6zM737 533h5v1h-5zM747 533h4v1h-4zM755 533h7v1h-7zM766 533h5v1h-5zM777 533h8v1h-8zM790 533h4v1h-4zM799 533h7v1h-7zM810 533h4v1h-4zM819 533h4v1h-4zM827 533h11v1h-11zM854 533h3v1h-3zM862 533h5v1h-5zM881 533h3v1h-3zM885 533h3v1h-3zM907 533h3v1h-3zM927 533h3v1h-3zM934 533h12v1h-12zM949 533h3v1h-3zM958 533h4v1h-4zM967 533h5v1h-5zM978 533h4v1h-4zM991 533h7v1h-7zM1002 533h4v1h-4zM1010 533h6v1h-6zM1021 533h4v1h-4zM1030 533h4v1h-4zM1041 533h4v1h-4zM1046 533h4v1h-4zM1063 533h5v1h-5zM1073 533h4v1h-4zM1097 533h3v1h-3zM1107 533h3v1h-3zM1116 533h3v1h-3zM1127 533h4v1h-4zM1152 533h4v1h-4zM1191 533h3v1h-3zM1198 533h4v1h-4zM1257 533h3v1h-3zM1303 533h4v1h-4zM101 534h127v1h-127zM101 533h1v1h-1zM102 533h1v1h-1zM103 532h1v1h-1zM109 531h1v3h-1zM110 528h1v3h-1zM111 526h1v2h-1zM112 525h1v7h-1zM113 532h1v2h-1zM114 533h1v1h-1zM116 533h1v1h-1zM118 533h1v1h-1zM119 531h1v3h-1zM120 528h1v3h-1zM121 526h1v2h-1zM122 526h1v2h-1zM123 528h1v4h-1zM124 533h1v1h-1zM125 531h1v1h-1zM128 532h1v1h-1zM129 529h1v3h-1zM130 524h1v5h-1zM131 521h1v3h-1zM132 519h1v4h-1zM133 523h1v7h-1zM134 530h1v3h-1zM139 531h1v2h-1zM140 528h1v3h-1zM141 523h1v5h-1zM142 526h1v6h-1zM143 532h1v2h-1zM144 533h1v1h-1zM145 532h1v1h-1zM207 533h1v1h-1zM208 532h1v1h-1zM209 532h1v1h-1zM216 531h1v2h-1zM217 530h1v1h-1zM218 529h1v1h-1zM219 530h1v2h-1zM220 532h1v1h-1zM225 530h1v3h-1zM226 527h1v3h-1zM227 525h1v2h-1zM228 523h1v8h-1zM229 531h1v2h-1zM233 534h1v1h-1zM235 527h1v6h-1zM236 524h1v3h-1zM237 522h1v3h-1zM238 525h1v6h-1zM239 531h1v2h-1zM240 534h1v1h-1zM242 532h1v1h-1zM244 530h1v3h-1zM245 528h1v2h-1zM246 526h1v2h-1zM247 524h1v2h-1zM248 526h1v4h-1zM249 530h1v3h-1zM249 534h1v1h-1zM250 532h1v1h-1zM251 534h1v1h-1zM256 534h1v1h-1zM259 534h1v1h-1zM261 532h1v1h-1zM262 532h1v1h-1zM269 531h1v2h-1zM270 530h1v1h-1zM271 529h1v3h-1zM272 532h1v1h-1zM277 531h1v2h-1zM278 526h1v5h-1zM279 525h1v2h-1zM280 527h1v4h-1zM281 531h1v2h-1zM284 534h1v1h-1zM286 534h1v1h-1zM287 530h1v3h-1zM288 527h1v3h-1zM289 525h1v2h-1zM290 524h1v2h-1zM291 526h1v5h-1zM292 531h1v2h-1zM293 534h1v1h-1zM297 531h1v2h-1zM298 528h1v3h-1zM299 525h1v3h-1zM300 525h1v5h-1zM301 530h1v2h-1zM302 531h1v1h-1zM308 534h1v1h-1zM314 532h1v1h-1zM320 531h1v2h-1zM321 526h1v5h-1zM322 525h1v2h-1zM323 527h1v5h-1zM324 532h1v1h-1zM324 534h1v1h-1zM328 534h1v1h-1zM329 534h1v1h-1zM331 530h1v3h-1zM332 528h1v2h-1zM333 526h1v2h-1zM334 524h1v3h-1zM335 527h1v4h-1zM336 531h1v2h-1zM340 530h1v3h-1zM341 528h1v2h-1zM342 527h1v1h-1zM343 525h1v6h-1zM344 531h1v2h-1zM350 530h1v3h-1zM351 528h1v2h-1zM352 529h1v1h-1zM353 530h1v2h-1zM354 532h1v1h-1zM358 532h1v1h-1zM365 531h1v2h-1zM366 530h1v1h-1zM367 531h1v2h-1zM368 532h1v1h-1zM370 532h1v1h-1zM372 530h1v3h-1zM373 527h1v3h-1zM374 526h1v1h-1zM375 525h1v2h-1zM376 527h1v4h-1zM377 531h1v2h-1zM379 534h1v1h-1zM383 531h1v2h-1zM384 529h1v2h-1zM385 527h1v2h-1zM386 526h1v2h-1zM387 528h1v5h-1zM393 530h1v3h-1zM394 525h1v5h-1zM395 524h1v2h-1zM396 526h1v5h-1zM397 531h1v2h-1zM401 529h1v4h-1zM402 524h1v5h-1zM403 522h1v2h-1zM404 521h1v3h-1zM405 524h1v6h-1zM406 530h1v3h-1zM408 532h1v1h-1zM418 531h1v1h-1zM426 530h1v3h-1zM427 527h1v3h-1zM428 524h1v3h-1zM429 523h1v3h-1zM430 526h1v7h-1zM434 532h1v1h-1zM436 530h1v3h-1zM437 525h1v5h-1zM438 523h1v3h-1zM439 526h1v5h-1zM440 531h1v2h-1zM444 532h1v1h-1zM445 530h1v2h-1zM446 527h1v3h-1zM447 524h1v3h-1zM448 521h1v4h-1zM449 525h1v6h-1zM450 531h1v2h-1zM455 531h1v2h-1zM456 528h1v3h-1zM457 526h1v2h-1zM458 525h1v2h-1zM459 527h1v6h-1zM465 532h1v1h-1zM472 532h1v1h-1zM478 531h1v2h-1zM479 529h1v2h-1zM480 526h1v3h-1zM481 528h1v3h-1zM482 531h1v1h-1zM488 531h1v1h-1zM489 530h1v1h-1zM490 530h1v1h-1zM491 531h1v1h-1zM495 531h1v1h-1zM497 530h1v2h-1zM498 528h1v2h-1zM499 526h1v2h-1zM500 524h1v3h-1zM501 527h1v4h-1zM502 531h1v1h-1zM507 531h1v1h-1zM508 527h1v4h-1zM509 523h1v4h-1zM510 526h1v5h-1zM511 531h1v1h-1zM512 533h1v1h-1zM514 533h1v1h-1zM516 533h1v1h-1zM517 533h1v1h-1zM524 531h1v1h-1zM531 531h1v1h-1zM532 531h1v1h-1zM533 530h1v1h-1zM534 531h1v1h-1zM540 530h1v2h-1zM541 526h1v4h-1zM542 524h1v2h-1zM543 523h1v3h-1zM544 526h1v5h-1zM545 531h1v1h-1zM550 530h1v2h-1zM551 527h1v3h-1zM552 524h1v3h-1zM553 523h1v8h-1zM554 531h1v1h-1zM560 531h1v1h-1zM561 530h1v1h-1zM562 528h1v2h-1zM563 530h1v2h-1zM574 531h1v1h-1zM577 530h1v2h-1zM578 531h1v1h-1zM579 533h1v1h-1zM580 531h1v1h-1zM581 533h1v1h-1zM582 533h1v1h-1zM583 530h1v2h-1zM584 527h1v3h-1zM585 525h1v2h-1zM586 523h1v3h-1zM587 526h1v5h-1zM588 531h1v1h-1zM593 530h1v2h-1zM594 527h1v3h-1zM595 525h1v2h-1zM596 524h1v7h-1zM597 531h1v1h-1zM603 528h1v4h-1zM604 525h1v3h-1zM605 521h1v4h-1zM606 519h1v3h-1zM607 522h1v7h-1zM608 529h1v3h-1zM614 531h1v1h-1zM615 528h1v3h-1zM616 526h1v2h-1zM617 525h1v2h-1zM618 527h1v5h-1zM630 531h1v1h-1zM636 530h1v2h-1zM637 527h1v3h-1zM638 525h1v2h-1zM639 523h1v3h-1zM640 526h1v6h-1zM646 530h1v2h-1zM647 525h1v5h-1zM648 522h1v4h-1zM649 526h1v5h-1zM650 531h1v1h-1zM656 531h1v1h-1zM657 529h1v2h-1zM658 527h1v2h-1zM659 525h1v2h-1zM660 527h1v4h-1zM661 531h1v1h-1zM666 531h1v1h-1zM667 528h1v3h-1zM668 523h1v5h-1zM669 526h1v4h-1zM670 530h1v2h-1zM677 531h1v1h-1zM688 533h1v1h-1zM689 529h1v3h-1zM690 524h1v5h-1zM691 522h1v3h-1zM692 525h1v6h-1zM693 531h1v1h-1zM699 528h1v4h-1zM700 525h1v3h-1zM701 521h1v4h-1zM702 519h1v4h-1zM703 523h1v7h-1zM704 530h1v2h-1zM709 530h1v2h-1zM710 527h1v3h-1zM711 525h1v2h-1zM712 524h1v6h-1zM713 530h1v2h-1zM719 527h1v5h-1zM720 524h1v3h-1zM721 523h1v2h-1zM722 525h1v5h-1zM723 530h1v2h-1zM726 531h1v1h-1zM728 531h1v1h-1zM734 532h1v1h-1zM736 532h1v1h-1zM741 532h1v1h-1zM742 530h1v1h-1zM743 527h1v3h-1zM744 526h1v1h-1zM745 524h1v3h-1zM746 527h1v4h-1zM747 532h1v1h-1zM750 532h1v1h-1zM751 529h1v2h-1zM752 525h1v4h-1zM753 522h1v3h-1zM754 520h1v3h-1zM755 523h1v8h-1zM755 532h1v1h-1zM762 529h1v2h-1zM762 532h1v1h-1zM763 527h1v2h-1zM764 525h1v2h-1zM765 527h1v4h-1zM766 532h1v1h-1zM770 532h1v1h-1zM772 529h1v2h-1zM773 527h1v2h-1zM774 526h1v2h-1zM775 528h1v3h-1zM776 532h1v1h-1zM785 532h1v1h-1zM786 533h1v1h-1zM787 533h1v1h-1zM788 532h1v1h-1zM789 532h1v1h-1zM794 530h1v1h-1zM794 532h1v1h-1zM795 527h1v3h-1zM796 525h1v2h-1zM797 523h1v3h-1zM798 526h1v5h-1zM799 532h1v1h-1zM806 526h1v5h-1zM806 532h1v1h-1zM807 524h1v2h-1zM808 522h1v3h-1zM809 525h1v6h-1zM810 532h1v1h-1zM813 532h1v1h-1zM814 530h1v1h-1zM815 526h1v4h-1zM816 523h1v3h-1zM817 523h1v3h-1zM818 526h1v5h-1zM819 532h1v1h-1zM823 530h1v1h-1zM823 532h1v1h-1zM824 528h1v2h-1zM825 526h1v2h-1zM826 524h1v3h-1zM827 527h1v4h-1zM827 532h1v1h-1zM835 532h1v1h-1zM839 533h1v1h-1zM844 532h1v1h-1zM845 533h1v1h-1zM846 532h1v2h-1zM847 529h1v2h-1zM848 526h1v3h-1zM849 522h1v4h-1zM850 524h1v6h-1zM851 530h1v1h-1zM851 532h1v2h-1zM852 533h1v1h-1zM853 532h1v1h-1zM857 532h1v1h-1zM858 529h1v2h-1zM859 527h1v2h-1zM860 525h1v2h-1zM861 527h1v4h-1zM862 532h1v1h-1zM866 532h1v1h-1zM867 528h1v3h-1zM868 525h1v3h-1zM869 523h1v2h-1zM870 522h1v3h-1zM871 525h1v6h-1zM871 532h1v2h-1zM872 533h1v1h-1zM876 533h1v1h-1zM877 532h1v1h-1zM878 530h1v1h-1zM879 530h1v1h-1zM881 532h1v1h-1zM884 532h1v1h-1zM885 532h1v1h-1zM888 532h1v1h-1zM889 532h1v1h-1zM890 533h1v1h-1zM891 533h1v1h-1zM893 533h1v1h-1zM895 533h1v1h-1zM896 533h1v1h-1zM897 532h1v1h-1zM898 533h1v1h-1zM899 532h1v2h-1zM900 524h1v7h-1zM901 520h1v4h-1zM902 518h1v4h-1zM903 522h1v7h-1zM904 529h1v2h-1zM904 532h1v2h-1zM905 533h1v1h-1zM906 532h1v1h-1zM907 532h1v1h-1zM910 532h1v1h-1zM911 529h1v2h-1zM912 530h1v1h-1zM913 529h1v1h-1zM914 530h1v1h-1zM914 532h1v2h-1zM915 533h1v1h-1zM916 532h1v1h-1zM917 532h1v1h-1zM918 533h1v1h-1zM919 533h1v1h-1zM920 530h1v1h-1zM920 532h1v1h-1zM921 527h1v3h-1zM922 525h1v2h-1zM923 527h1v4h-1zM924 532h1v2h-1zM925 533h1v1h-1zM926 532h1v1h-1zM929 530h1v1h-1zM929 532h1v1h-1zM930 527h1v3h-1zM931 526h1v2h-1zM932 524h1v3h-1zM933 527h1v4h-1zM934 532h1v1h-1zM936 532h1v1h-1zM943 532h1v1h-1zM951 532h1v1h-1zM952 529h1v2h-1zM953 526h1v3h-1zM954 524h1v2h-1zM955 522h1v3h-1zM956 525h1v5h-1zM957 530h1v1h-1zM957 532h1v1h-1zM962 532h1v1h-1zM964 529h1v2h-1zM965 526h1v3h-1zM966 528h1v3h-1zM967 532h1v1h-1zM971 532h1v1h-1zM972 524h1v7h-1zM973 521h1v3h-1zM974 519h1v3h-1zM975 522h1v6h-1zM976 528h1v3h-1zM977 532h1v1h-1zM982 530h1v1h-1zM982 532h1v1h-1zM983 527h1v3h-1zM984 525h1v2h-1zM985 523h1v3h-1zM986 526h1v4h-1zM987 531h1v3h-1zM988 532h1v1h-1zM989 533h1v1h-1zM990 532h1v1h-1zM994 532h1v1h-1zM998 532h1v1h-1zM999 531h1v1h-1zM1000 532h1v1h-1zM1001 532h1v1h-1zM1005 532h1v1h-1zM1006 531h1v1h-1zM1007 527h1v3h-1zM1008 523h1v4h-1zM1009 525h1v5h-1zM1010 531h1v2h-1zM1015 529h1v1h-1zM1015 531h1v2h-1zM1016 525h1v4h-1zM1017 522h1v3h-1zM1018 520h1v3h-1zM1019 523h1v6h-1zM1020 529h1v1h-1zM1020 531h1v2h-1zM1025 531h1v2h-1zM1026 528h1v2h-1zM1027 526h1v2h-1zM1028 524h1v2h-1zM1029 526h1v4h-1zM1030 531h1v2h-1zM1034 532h1v1h-1zM1035 531h1v1h-1zM1036 527h1v3h-1zM1037 524h1v3h-1zM1038 526h1v4h-1zM1039 531h1v3h-1zM1040 532h1v1h-1zM1044 532h1v1h-1zM1045 532h1v1h-1zM1052 531h1v1h-1zM1054 533h1v1h-1zM1055 533h1v1h-1zM1058 533h1v1h-1zM1059 526h1v4h-1zM1059 531h1v1h-1zM1060 524h1v2h-1zM1061 522h1v3h-1zM1062 525h1v5h-1zM1063 531h1v2h-1zM1066 532h1v1h-1zM1068 531h1v2h-1zM1069 527h1v3h-1zM1070 525h1v2h-1zM1071 524h1v2h-1zM1072 526h1v4h-1zM1073 531h1v2h-1zM1077 531h1v2h-1zM1078 528h1v2h-1zM1079 526h1v2h-1zM1080 525h1v5h-1zM1081 531h1v1h-1zM1082 532h1v1h-1zM1083 533h1v1h-1zM1088 527h1v3h-1zM1088 531h1v1h-1zM1089 524h1v3h-1zM1090 522h1v3h-1zM1091 525h1v5h-1zM1092 531h1v1h-1zM1100 532h1v1h-1zM1101 533h1v1h-1zM1102 533h1v1h-1zM1103 532h1v1h-1zM1104 531h1v1h-1zM1105 532h1v1h-1zM1106 532h1v1h-1zM1109 532h1v1h-1zM1110 531h1v1h-1zM1111 527h1v3h-1zM1112 525h1v2h-1zM1113 524h1v2h-1zM1114 526h1v4h-1zM1115 531h1v2h-1zM1117 532h1v1h-1zM1119 532h1v1h-1zM1120 532h1v1h-1zM1121 531h1v1h-1zM1122 528h1v2h-1zM1123 526h1v2h-1zM1124 524h1v6h-1zM1125 531h1v3h-1zM1126 532h1v1h-1zM1131 531h1v2h-1zM1132 529h1v1h-1zM1133 528h1v1h-1zM1134 529h1v1h-1zM1135 531h1v2h-1zM1136 532h1v1h-1zM1137 533h1v1h-1zM1138 531h1v3h-1zM1139 532h1v1h-1zM1140 529h1v1h-1zM1140 531h1v1h-1zM1141 527h1v2h-1zM1142 525h1v2h-1zM1143 523h1v3h-1zM1144 526h1v4h-1zM1145 531h1v1h-1zM1146 532h1v1h-1zM1147 533h1v1h-1zM1148 533h1v1h-1zM1149 532h1v1h-1zM1150 533h1v1h-1zM1151 532h1v1h-1zM1153 532h1v1h-1zM1156 532h1v1h-1zM1157 531h1v1h-1zM1158 532h1v1h-1zM1159 533h1v1h-1zM1164 531h1v1h-1zM1165 529h1v1h-1zM1166 528h1v1h-1zM1167 529h1v1h-1zM1167 531h1v2h-1zM1168 533h1v1h-1zM1169 532h1v1h-1zM1170 532h1v1h-1zM1171 533h1v1h-1zM1172 533h1v1h-1zM1173 532h1v1h-1zM1174 528h1v2h-1zM1174 531h1v1h-1zM1175 526h1v2h-1zM1176 525h1v2h-1zM1177 527h1v3h-1zM1178 531h1v2h-1zM1179 532h1v1h-1zM1180 533h1v1h-1zM1181 532h1v1h-1zM1182 532h1v1h-1zM1183 529h1v1h-1zM1183 531h1v1h-1zM1184 526h1v3h-1zM1185 524h1v2h-1zM1186 523h1v2h-1zM1187 525h1v5h-1zM1188 531h1v1h-1zM1189 531h1v1h-1zM1193 532h1v1h-1zM1194 531h1v1h-1zM1195 528h1v2h-1zM1196 525h1v3h-1zM1197 527h1v3h-1zM1198 531h1v2h-1zM1202 532h1v1h-1zM1203 532h1v2h-1zM1204 533h1v1h-1zM1210 531h1v1h-1zM1211 532h1v1h-1zM1212 532h1v1h-1zM1213 533h1v1h-1zM1214 531h1v2h-1zM1215 532h1v1h-1zM1216 531h1v1h-1zM1217 527h1v3h-1zM1218 523h1v4h-1zM1219 526h1v4h-1zM1220 531h1v3h-1zM1221 533h1v1h-1zM1225 533h1v1h-1zM1226 531h1v1h-1zM1227 529h1v1h-1zM1228 527h1v2h-1zM1229 525h1v2h-1zM1230 527h1v3h-1zM1231 531h1v1h-1zM1231 533h1v1h-1zM1234 531h1v1h-1zM1235 532h1v2h-1zM1236 531h1v2h-1zM1237 528h1v1h-1zM1238 526h1v2h-1zM1239 525h1v2h-1zM1240 527h1v2h-1zM1240 530h1v3h-1zM1241 533h1v1h-1zM1245 530h1v2h-1zM1246 525h1v4h-1zM1247 523h1v2h-1zM1248 525h1v4h-1zM1249 530h1v3h-1zM1250 533h1v1h-1zM1251 532h1v1h-1zM1252 533h1v1h-1zM1260 532h1v1h-1zM1261 532h1v1h-1zM1262 531h1v1h-1zM1263 532h1v1h-1zM1264 531h1v1h-1zM1265 532h1v1h-1zM1266 531h1v1h-1zM1267 532h1v2h-1zM1268 531h1v3h-1zM1269 530h1v1h-1zM1270 527h1v2h-1zM1271 525h1v2h-1zM1272 527h1v2h-1zM1272 530h1v1h-1zM1273 531h1v2h-1zM1274 531h1v1h-1zM1275 532h1v1h-1zM1276 533h1v1h-1zM1277 532h1v1h-1zM1278 532h1v1h-1zM1279 530h1v2h-1zM1280 527h1v2h-1zM1281 524h1v3h-1zM1282 522h1v3h-1zM1283 525h1v4h-1zM1283 530h1v3h-1zM1284 533h1v1h-1zM1287 533h1v1h-1zM1288 530h1v2h-1zM1289 526h1v3h-1zM1290 523h1v3h-1zM1291 526h1v3h-1zM1291 530h1v1h-1zM1292 531h1v1h-1zM1292 533h1v1h-1zM1293 531h1v1h-1zM1294 533h1v1h-1zM1297 531h1v1h-1zM1298 531h1v1h-1zM1299 530h1v1h-1zM1301 530h1v2h-1zM1302 532h1v1h-1zM1307 532h1v1h-1zM1308 533h1v1h-1zM1309 533h1v1h-1zM1312 531h1v1h-1zM1315 531h1v1h-1zM1316 532h1v1h-1zM1317 532h1v1h-1zM1318 533h1v1h-1zM1319 532h1v1h-1zM1320 532h1v1h-1zM1321 530h1v2h-1zM1322 526h1v3h-1zM1323 523h1v3h-1zM1324 522h1v3h-1zM1325 525h1v4h-1zM1326 530h1v2h-1zM1329 533h1v1h-1zM1330 531h1v2h-1zM1331 532h1v1h-1zM1332 530h1v2h-1zM1333 525h1v4h-1zM1334 524h1v2h-1zM1335 526h1v3h-1zM1335 530h1v1h-1zM1336 531h1v1h-1zM1336 533h1v1h-1zM1339 533h1v1h-1zM1340 533h1v1h-1zM1341 530h1v3h-1zM1342 528h1v1h-1zM1343 528h1v1h-1zM1344 530h1v1h-1zM1345 531h1v1h-1zM1348 531h1v1h-1zM1350 531h1v1h-1zM1351 528h1v1h-1zM1351 530h1v1h-1zM1352 523h1v5h-1zM1353 520h1v3h-1zM1354 518h1v4h-1zM1355 522h1v7h-1zM1355 530h1v3h-1zM1356 532h1v1h-1zM1357 533h1v1h-1zM1358 533h1v1h-1zM1359 532h1v1h-1zM1360 530h1v1h-1zM1361 532h1v1h-1zM1362 530h1v1h-1zM1362 532h1v2h-1z"/>
<rect class="c" x="200.5" y="427.5" width="12" height="12" fill="none" stroke="#c000ff"/>
<rect class="c" x="200" y="481" width="13" height="13" fill="#00eeee"/>
<rect class="c" x="555" y="481" width="13" height="13" fill="#00eeee"/>
<rect class="c" x="641" y="481" width="13" height="13" fill="#00eeee"/>
<rect class="c" x="892" y="481" width="13" height="13" fill="#00eeee"/>
<rect class="c" x="921" y="481" width="13" height="13" fill="#00eeee"/>
<rect class="c" x="935" y="481" width="13" height="13" fill="#00eeee"/>
<rect class="c" x="1286" y="481" width="13" height="13" fill="#00eeee"/>
<rect class="c" x="1326" y="481" width="13" height="13" fill="#00eeee"/>
<path class="c" fill="#c04000" d="M100 513h7v1h-7zM100 523h7v1h-7zM98 515h1v7h-1zM108 515h1v7h-1zM99 514h1v1h-1zM100 514h1v1h-1zM99 515h1v1h-1zM99 522h1v1h-1zM100 522h1v1h-1zM99 521h1v1h-1zM107 514h1v1h-1zM106 514h1v1h-1zM107 515h1v1h-1zM107 522h1v1h-1zM106 522h1v1h-1zM107 521h1v1h-1zM103 512h1v1h-1zM103 524h1v1h-1zM97 518h1v1h-1zM109 518h1v1h-1z"/>
<path class="c" fill="#c04000" d="M146 514h7v1h-7zM146 524h7v1h-7zM144 516h1v7h-1zM154 516h1v7h-1zM145 515h1v1h-1zM146 515h1v1h-1zM145 516h1v1h-1zM145 523h1v1h-1zM146 523h1v1h-1zM145 522h1v1h-1zM153 515h1v1h-1zM152 515h1v1h-1zM153 516h1v1h-1zM153 523h1v1h-1zM152 523h1v1h-1zM153 522h1v1h-1zM149 513h1v1h-1zM149 525h1v1h-1zM143 519h1v1h-1zM155 519h1v1h-1z"/>
<path class="c" fill="#c04000" d="M205 515h7v1h-7zM205 525h7v1h-7zM203 517h1v7h-1zM213 517h1v7h-1zM204 516h1v1h-1zM205 516h1v1h-1zM204 517h1v1h-1zM204 524h1v1h-1zM205 524h1v1h-1zM204 523h1v1h-1zM212 516h1v1h-1zM211 516h1v1h-1zM212 517h1v1h-1zM212 524h1v1h-1zM211 524h1v1h-1zM212 523h1v1h-1zM208 514h1v1h-1zM208 526h1v1h-1zM202 520h1v1h-1zM214 520h1v1h-1z"/>
<path class="c" fill="#c04000" d="M253 515h7v1h-7zM253 525h7v1h-7zM251 517h1v7h-1zM261 517h1v7h-1zM252 516h1v1h-1zM253 516h1v1h-1zM252 517h1v1h-1zM252 524h1v1h-1zM253 524h1v1h-1zM252 523h1v1h-1zM260 516h1v1h-1zM259 516h1v1h-1zM260 517h1v1h-1zM260 524h1v1h-1zM259 524h1v1h-1zM260 523h1v1h-1zM256 514h1v1h-1zM256 526h1v1h-1zM250 520h1v1h-1zM262 520h1v1h-1z"/>
<path class="c" fill="#c04000" d="M259 514h7v1h-7zM259 524h7v1h-7zM257 516h1v7h-1zM267 516h1v7h-1zM258 515h1v1h-1zM259 515h1v1h-1zM258 516h1v1h-1zM258 523h1v1h-1zM259 523h1v1h-1zM258 522h1v1h-1zM266 515h1v1h-1zM265 515h1v1h-1zM266 516h1v1h-1zM266 523h1v1h-1zM265 523h1v1h-1zM266 522h1v1h-1zM262 513h1v1h-1zM262 525h1v1h-1zM256 519h1v1h-1zM268 519h1v1h-1z"/>
<path class="c" fill="#c04000" d="M304 515h7v1h-7zM304 525h7v1h-7zM302 517h1v7h-1zM312 517h1v7h-1zM303 516h1v1h-1zM304 516h1v1h-1zM303 517h1v1h-1zM303 524h1v1h-1zM304 524h1v1h-1zM303 523h1v1h-1zM311 516h1v1h-1zM310 516h1v1h-1zM311 517h1v1h-1zM311 524h1v1h-1zM310 524h1v1h-1zM311 523h1v1h-1zM307 514h1v1h-1zM307 526h1v1h-1zM301 520h1v1h-1zM313 520h1v1h-1z"/>
<path class="c" fill="#c04000" d="M311 514h7v1h-7zM311 524h7v1h-7zM309 516h1v7h-1zM319 516h1v7h-1zM310 515h1v1h-1zM311 515h1v1h-1zM310 516h1v1h-1zM310 523h1v1h-1zM311 523h1v1h-1zM310 522h1v1h-1zM318 515h1v1h-1zM317 515h1v1h-1zM318 516h1v1h-1zM318 523h1v1h-1zM317 523h1v1h-1zM318 522h1v1h-1zM314 513h1v1h-1zM314 525h1v1h-1zM308 519h1v1h-1zM320 519h1v1h-1z"/>
<path class="c" fill="#c04000" d="M357 514h7v1h-7zM357 524h7v1h-7zM355 516h1v7h-1zM365 516h1v7h-1zM356 515h1v1h-1zM357 515h1v1h-1zM356 516h1v1h-1zM356 523h1v1h-1zM357 523h1v1h-1zM356 522h1v1h-1zM364 515h1v1h-1zM363 515h1v1h-1zM364 516h1v1h-1zM364 523h1v1h-1zM363 523h1v1h-1zM364 522h1v1h-1zM360 513h1v1h-1zM360 525h1v1h-1zM354 519h1v1h-1zM366 519h1v1h-1z"/>
<path class="c" fill="#c04000" d="M363 510h7v1h-7zM363 520h7v1h-7zM361 512h1v7h-1zM371 512h1v7h-1zM362 511h1v1h-1zM363 511h1v1h-1zM362 512h1v1h-1zM362 519h1v1h-1zM363 519h1v1h-1zM362 518h1v1h-1zM370 511h1v1h-1zM369 511h1v1h-1zM370 512h1v1h-1zM370 519h1v1h-1zM369 519h1v1h-1zM370 518h1v1h-1zM366 509h1v1h-1zM366 521h1v1h-1zM360 515h1v1h-1zM372 515h1v1h-1z"/>
<path class="c" fill="#c04000" d="M410 516h7v1h-7zM410 526h7v1h-7zM408 518h1v7h-1zM418 518h1v7h-1zM409 517h1v1h-1zM410 517h1v1h-1zM409 518h1v1h-1zM409 525h1v1h-1zM410 525h1v1h-1zM409 524h1v1h-1zM417 517h1v1h-1zM416 517h1v1h-1zM417 518h1v1h-1zM417 525h1v1h-1zM416 525h1v1h-1zM417 524h1v1h-1zM413 515h1v1h-1zM413 527h1v1h-1zM407 521h1v1h-1zM419 521h1v1h-1z"/>
<path class="c" fill="#c04000" d="M416 512h7v1h-7zM416 522h7v1h-7zM414 514h1v7h-1zM424 514h1v7h-1zM415 513h1v1h-1zM416 513h1v1h-1zM415 514h1v1h-1zM415 521h1v1h-1zM416 521h1v1h-1zM415 520h1v1h-1zM423 513h1v1h-1zM422 513h1v1h-1zM423 514h1v1h-1zM423 521h1v1h-1zM422 521h1v1h-1zM423 520h1v1h-1zM419 511h1v1h-1zM419 523h1v1h-1zM413 517h1v1h-1zM425 517h1v1h-1z"/>
<path class="c" fill="#c04000" d="M463 514h7v1h-7zM463 524h7v1h-7zM461 516h1v7h-1zM471 516h1v7h-1zM462 515h1v1h-1zM463 515h1v1h-1zM462 516h1v1h-1zM462 523h1v1h-1zM463 523h1v1h-1zM462 522h1v1h-1zM470 515h1v1h-1zM469 515h1v1h-1zM470 516h1v1h-1zM470 523h1v1h-1zM469 523h1v1h-1zM470 522h1v1h-1zM466 513h1v1h-1zM466 525h1v1h-1zM460 519h1v1h-1zM472 519h1v1h-1z"/>
<path class="c" fill="#c04000" d="M469 510h7v1h-7zM469 520h7v1h-7zM467 512h1v7h-1zM477 512h1v7h-1zM468 511h1v1h-1zM469 511h1v1h-1zM468 512h1v1h-1zM468 519h1v1h-1zM469 519h1v1h-1zM468 518h1v1h-1zM476 511h1v1h-1zM475 511h1v1h-1zM476 512h1v1h-1zM476 519h1v1h-1zM475 519h1v1h-1zM476 518h1v1h-1zM472 509h1v1h-1zM472 521h1v1h-1zM466 515h1v1h-1zM478 515h1v1h-1z"/>
<path class="c" fill="#c04000" d="M515 514h7v1h-7zM515 524h7v1h-7zM513 516h1v7h-1zM523 516h1v7h-1zM514 515h1v1h-1zM515 515h1v1h-1zM514 516h1v1h-1zM514 523h1v1h-1zM515 523h1v1h-1zM514 522h1v1h-1zM522 515h1v1h-1zM521 515h1v1h-1zM522 516h1v1h-1zM522 523h1v1h-1zM521 523h1v1h-1zM522 522h1v1h-1zM518 513h1v1h-1zM518 525h1v1h-1zM512 519h1v1h-1zM524 519h1v1h-1z"/>
<path class="c" fill="#c04000" d="M521 511h7v1h-7zM521 521h7v1h-7zM519 513h1v7h-1zM529 513h1v7h-1zM520 512h1v1h-1zM521 512h1v1h-1zM520 513h1v1h-1zM520 520h1v1h-1zM521 520h1v1h-1zM520 519h1v1h-1zM528 512h1v1h-1zM527 512h1v1h-1zM528 513h1v1h-1zM528 520h1v1h-1zM527 520h1v1h-1zM528 519h1v1h-1zM524 510h1v1h-1zM524 522h1v1h-1zM518 516h1v1h-1zM530 516h1v1h-1z"/>
<path class="c" fill="#c04000" d="M568 515h7v1h-7zM568 525h7v1h-7zM566 517h1v7h-1zM576 517h1v7h-1zM567 516h1v1h-1zM568 516h1v1h-1zM567 517h1v1h-1zM567 524h1v1h-1zM568 524h1v1h-1zM567 523h1v1h-1zM575 516h1v1h-1zM574 516h1v1h-1zM575 517h1v1h-1zM575 524h1v1h-1zM574 524h1v1h-1zM575 523h1v1h-1zM571 514h1v1h-1zM571 526h1v1h-1zM565 520h1v1h-1zM577 520h1v1h-1z"/>
<path class="c" fill="#c04000" d="M574 513h7v1h-7zM574 523h7v1h-7zM572 515h1v7h-1zM582 515h1v7h-1zM573 514h1v1h-1zM574 514h1v1h-1zM573 515h1v1h-1zM573 522h1v1h-1zM574 522h1v1h-1zM573 521h1v1h-1zM581 514h1v1h-1zM580 514h1v1h-1zM581 515h1v1h-1zM581 522h1v1h-1zM580 522h1v1h-1zM581 521h1v1h-1zM577 512h1v1h-1zM577 524h1v1h-1zM571 518h1v1h-1zM583 518h1v1h-1z"/>
<path class="c" fill="#c04000" d="M621 515h7v1h-7zM621 525h7v1h-7zM619 517h1v7h-1zM629 517h1v7h-1zM620 516h1v1h-1zM621 516h1v1h-1zM620 517h1v1h-1zM620 524h1v1h-1zM621 524h1v1h-1zM620 523h1v1h-1zM628 516h1v1h-1zM627 516h1v1h-1zM628 517h1v1h-1zM628 524h1v1h-1zM627 524h1v1h-1zM628 523h1v1h-1zM624 514h1v1h-1zM624 526h1v1h-1zM618 520h1v1h-1zM630 520h1v1h-1z"/>
<path class="c" fill="#c04000" d="M627 513h7v1h-7zM627 523h7v1h-7zM625 515h1v7h-1zM635 515h1v7h-1zM626 514h1v1h-1zM627 514h1v1h-1zM626 515h1v1h-1zM626 522h1v1h-1zM627 522h1v1h-1zM626 521h1v1h-1zM634 514h1v1h-1zM633 514h1v1h-1zM634 515h1v1h-1zM634 522h1v1h-1zM633 522h1v1h-1zM634 521h1v1h-1zM630 512h1v1h-1zM630 524h1v1h-1zM624 518h1v1h-1zM636 518h1v1h-1z"/>
<path class="c" fill="#c04000" d="M673 514h7v1h-7zM673 524h7v1h-7zM671 516h1v7h-1zM681 516h1v7h-1zM672 515h1v1h-1zM673 515h1v1h-1zM672 516h1v1h-1zM672 523h1v1h-1zM673 523h1v1h-1zM672 522h1v1h-1zM680 515h1v1h-1zM679 515h1v1h-1zM680 516h1v1h-1zM680 523h1v1h-1zM679 523h1v1h-1zM680 522h1v1h-1zM676 513h1v1h-1zM676 525h1v1h-1zM670 519h1v1h-1zM682 519h1v1h-1z"/>
<path class="c" fill="#c04000" d="M679 514h7v1h-7zM679 524h7v1h-7zM677 516h1v7h-1zM687 516h1v7h-1zM678 515h1v1h-1zM679 515h1v1h-1zM678 516h1v1h-1zM678 523h1v1h-1zM679 523h1v1h-1zM678 522h1v1h-1zM686 515h1v1h-1zM685 515h1v1h-1zM686 516h1v1h-1zM686 523h1v1h-1zM685 523h1v1h-1zM686 522h1v1h-1zM682 513h1v1h-1zM682 525h1v1h-1zM676 519h1v1h-1zM688 519h1v1h-1z"/>
<path class="c" fill="#c04000" d="M726 511h7v1h-7zM726 521h7v1h-7zM724 513h1v7h-1zM734 513h1v7h-1zM725 512h1v1h-1zM726 512h1v1h-1zM725 513h1v1h-1zM725 520h1v1h-1zM726 520h1v1h-1zM725 519h1v1h-1zM733 512h1v1h-1zM732 512h1v1h-1zM733 513h1v1h-1zM733 520h1v1h-1zM732 520h1v1h-1zM733 519h1v1h-1zM729 510h1v1h-1zM729 522h1v1h-1zM723 516h1v1h-1zM735 516h1v1h-1z"/>
<path class="c" fill="#c04000" d="M732 513h7v1h-7zM732 523h7v1h-7zM730 515h1v7h-1zM740 515h1v7h-1zM731 514h1v1h-1zM732 514h1v1h-1zM731 515h1v1h-1zM731 522h1v1h-1zM732 522h1v1h-1zM731 521h1v1h-1zM739 514h1v1h-1zM738 514h1v1h-1zM739 515h1v1h-1zM739 522h1v1h-1zM738 522h1v1h-1zM739 521h1v1h-1zM735 512h1v1h-1zM735 524h1v1h-1zM729 518h1v1h-1zM741 518h1v1h-1z"/>
<path class="c" fill="#c04000" d="M779 512h7v1h-7zM779 522h7v1h-7zM777 514h1v7h-1zM787 514h1v7h-1zM778 513h1v1h-1zM779 513h1v1h-1zM778 514h1v1h-1zM778 521h1v1h-1zM779 521h1v1h-1zM778 520h1v1h-1zM786 513h1v1h-1zM785 513h1v1h-1zM786 514h1v1h-1zM786 521h1v1h-1zM785 521h1v1h-1zM786 520h1v1h-1zM782 511h1v1h-1zM782 523h1v1h-1zM776 517h1v1h-1zM788 517h1v1h-1z"/>
<path class="c" fill="#c04000" d="M785 514h7v1h-7zM785 524h7v1h-7zM783 516h1v7h-1zM793 516h1v7h-1zM784 515h1v1h-1zM785 515h1v1h-1zM784 516h1v1h-1zM784 523h1v1h-1zM785 523h1v1h-1zM784 522h1v1h-1zM792 515h1v1h-1zM791 515h1v1h-1zM792 516h1v1h-1zM792 523h1v1h-1zM791 523h1v1h-1zM792 522h1v1h-1zM788 513h1v1h-1zM788 525h1v1h-1zM782 519h1v1h-1zM794 519h1v1h-1z"/>
<path class="c" fill="#c04000" d="M832 511h7v1h-7zM832 521h7v1h-7zM830 513h1v7h-1zM840 513h1v7h-1zM831 512h1v1h-1zM832 512h1v1h-1zM831 513h1v1h-1zM831 520h1v1h-1zM832 520h1v1h-1zM831 519h1v1h-1zM839 512h1v1h-1zM838 512h1v1h-1zM839 513h1v1h-1zM839 520h1v1h-1zM838 520h1v1h-1zM839 519h1v1h-1zM835 510h1v1h-1zM835 522h1v1h-1zM829 516h1v1h-1zM841 516h1v1h-1z"/>
<path class="c" fill="#c04000" d="M838 514h7v1h-7zM838 524h7v1h-7zM836 516h1v7h-1zM846 516h1v7h-1zM837 515h1v1h-1zM838 515h1v1h-1zM837 516h1v1h-1zM837 523h1v1h-1zM838 523h1v1h-1zM837 522h1v1h-1zM845 515h1v1h-1zM844 515h1v1h-1zM845 516h1v1h-1zM845 523h1v1h-1zM844 523h1v1h-1zM845 522h1v1h-1zM841 513h1v1h-1zM841 525h1v1h-1zM835 519h1v1h-1zM847 519h1v1h-1z"/>
<path class="c" fill="#c04000" d="M884 513h7v1h-7zM884 523h7v1h-7zM882 515h1v7h-1zM892 515h1v7h-1zM883 514h1v1h-1zM884 514h1v1h-1zM883 515h1v1h-1zM883 522h1v1h-1zM884 522h1v1h-1zM883 521h1v1h-1zM891 514h1v1h-1zM890 514h1v1h-1zM891 515h1v1h-1zM891 522h1v1h-1zM890 522h1v1h-1zM891 521h1v1h-1zM887 512h1v1h-1zM887 524h1v1h-1zM881 518h1v1h-1zM893 518h1v1h-1z"/>
<path class="c" fill="#c04000" d="M890 517h7v1h-7zM890 527h7v1h-7zM888 519h1v7h-1zM898 519h1v7h-1zM889 518h1v1h-1zM890 518h1v1h-1zM889 519h1v1h-1zM889 526h1v1h-1zM890 526h1v1h-1zM889 525h1v1h-1zM897 518h1v1h-1zM896 518h1v1h-1zM897 519h1v1h-1zM897 526h1v1h-1zM896 526h1v1h-1zM897 525h1v1h-1zM893 516h1v1h-1zM893 528h1v1h-1zM887 522h1v1h-1zM899 522h1v1h-1z"/>
<path class="c" fill="#c04000" d="M937 512h7v1h-7zM937 522h7v1h-7zM935 514h1v7h-1zM945 514h1v7h-1zM936 513h1v1h-1zM937 513h1v1h-1zM936 514h1v1h-1zM936 521h1v1h-1zM937 521h1v1h-1zM936 520h1v1h-1zM944 513h1v1h-1zM943 513h1v1h-1zM944 514h1v1h-1zM944 521h1v1h-1zM943 521h1v1h-1zM944 520h1v1h-1zM940 511h1v1h-1zM940 523h1v1h-1zM934 517h1v1h-1zM946 517h1v1h-1z"/>
<path class="c" fill="#c04000" d="M943 509h7v1h-7zM943 519h7v1h-7zM941 511h1v7h-1zM951 511h1v7h-1zM942 510h1v1h-1zM943 510h1v1h-1zM942 511h1v1h-1zM942 518h1v1h-1zM943 518h1v1h-1zM942 517h1v1h-1zM950 510h1v1h-1zM949 510h1v1h-1zM950 511h1v1h-1zM950 518h1v1h-1zM949 518h1v1h-1zM950 517h1v1h-1zM946 508h1v1h-1zM946 520h1v1h-1zM940 514h1v1h-1zM952 514h1v1h-1z"/>
<path class="c" fill="#c04000" d="M990 514h7v1h-7zM990 524h7v1h-7zM988 516h1v7h-1zM998 516h1v7h-1zM989 515h1v1h-1zM990 515h1v1h-1zM989 516h1v1h-1zM989 523h1v1h-1zM990 523h1v1h-1zM989 522h1v1h-1zM997 515h1v1h-1zM996 515h1v1h-1zM997 516h1v1h-1zM997 523h1v1h-1zM996 523h1v1h-1zM997 522h1v1h-1zM993 513h1v1h-1zM993 525h1v1h-1zM987 519h1v1h-1zM999 519h1v1h-1z"/>
<path class="c" fill="#c04000" d="M996 511h7v1h-7zM996 521h7v1h-7zM994 513h1v7h-1zM1004 513h1v7h-1zM995 512h1v1h-1zM996 512h1v1h-1zM995 513h1v1h-1zM995 520h1v1h-1zM996 520h1v1h-1zM995 519h1v1h-1zM1003 512h1v1h-1zM1002 512h1v1h-1zM1003 513h1v1h-1zM1003 520h1v1h-1zM1002 520h1v1h-1zM1003 519h1v1h-1zM999 510h1v1h-1zM999 522h1v1h-1zM993 516h1v1h-1zM1005 516h1v1h-1z"/>
<path class="c" fill="#c04000" d="M1043 513h7v1h-7zM1043 523h7v1h-7zM1041 515h1v7h-1zM1051 515h1v7h-1zM1042 514h1v1h-1zM1043 514h1v1h-1zM1042 515h1v1h-1zM1042 522h1v1h-1zM1043 522h1v1h-1zM1042 521h1v1h-1zM1050 514h1v1h-1zM1049 514h1v1h-1zM1050 515h1v1h-1zM1050 522h1v1h-1zM1049 522h1v1h-1zM1050 521h1v1h-1zM1046 512h1v1h-1zM1046 524h1v1h-1zM1040 518h1v1h-1zM1052 518h1v1h-1z"/>
<path class="c" fill="#c04000" d="M1049 513h7v1h-7zM1049 523h7v1h-7zM1047 515h1v7h-1zM1057 515h1v7h-1zM1048 514h1v1h-1zM1049 514h1v1h-1zM1048 515h1v1h-1zM1048 522h1v1h-1zM1049 522h1v1h-1zM1048 521h1v1h-1zM1056 514h1v1h-1zM1055 514h1v1h-1zM1056 515h1v1h-1zM1056 522h1v1h-1zM1055 522h1v1h-1zM1056 521h1v1h-1zM1052 512h1v1h-1zM1052 524h1v1h-1zM1046 518h1v1h-1zM1058 518h1v1h-1z"/>
<path class="c" fill="#c04000" d="M1095 516h7v1h-7zM1095 526h7v1h-7zM1093 518h1v7h-1zM1103 518h1v7h-1zM1094 517h1v1h-1zM1095 517h1v1h-1zM1094 518h1v1h-1zM1094 525h1v1h-1zM1095 525h1v1h-1zM1094 524h1v1h-1zM1102 517h1v1h-1zM1101 517h1v1h-1zM1102 518h1v1h-1zM1102 525h1v1h-1zM1101 525h1v1h-1zM1102 524h1v1h-1zM1098 515h1v1h-1zM1098 527h1v1h-1zM1092 521h1v1h-1zM1104 521h1v1h-1z"/>
<path class="c" fill="#c04000" d="M1101 515h7v1h-7zM1101 525h7v1h-7zM1099 517h1v7h-1zM1109 517h1v7h-1zM1100 516h1v1h-1zM1101 516h1v1h-1zM1100 517h1v1h-1zM1100 524h1v1h-1zM1101 524h1v1h-1zM1100 523h1v1h-1zM1108 516h1v1h-1zM1107 516h1v1h-1zM1108 517h1v1h-1zM1108 524h1v1h-1zM1107 524h1v1h-1zM1108 523h1v1h-1zM1104 514h1v1h-1zM1104 526h1v1h-1zM1098 520h1v1h-1zM1110 520h1v1h-1z"/>
<path class="c" fill="#c04000" d="M1148 514h7v1h-7zM1148 524h7v1h-7zM1146 516h1v7h-1zM1156 516h1v7h-1zM1147 515h1v1h-1zM1148 515h1v1h-1zM1147 516h1v1h-1zM1147 523h1v1h-1zM1148 523h1v1h-1zM1147 522h1v1h-1zM1155 515h1v1h-1zM1154 515h1v1h-1zM1155 516h1v1h-1zM1155 523h1v1h-1zM1154 523h1v1h-1zM1155 522h1v1h-1zM1151 513h1v1h-1zM1151 525h1v1h-1zM1145 519h1v1h-1zM1157 519h1v1h-1z"/>
<path class="c" fill="#c04000" d="M1154 511h7v1h-7zM1154 521h7v1h-7zM1152 513h1v7h-1zM1162 513h1v7h-1zM1153 512h1v1h-1zM1154 512h1v1h-1zM1153 513h1v1h-1zM1153 520h1v1h-1zM1154 520h1v1h-1zM1153 519h1v1h-1zM1161 512h1v1h-1zM1160 512h1v1h-1zM1161 513h1v1h-1zM1161 520h1v1h-1zM1160 520h1v1h-1zM1161 519h1v1h-1zM1157 510h1v1h-1zM1157 522h1v1h-1zM1151 516h1v1h-1zM1163 516h1v1h-1z"/>
<path class="c" fill="#c04000" d="M1200 514h7v1h-7zM1200 524h7v1h-7zM1198 516h1v7h-1zM1208 516h1v7h-1zM1199 515h1v1h-1zM1200 515h1v1h-1zM1199 516h1v1h-1zM1199 523h1v1h-1zM1200 523h1v1h-1zM1199 522h1v1h-1zM1207 515h1v1h-1zM1206 515h1v1h-1zM1207 516h1v1h-1zM1207 523h1v1h-1zM1206 523h1v1h-1zM1207 522h1v1h-1zM1203 513h1v1h-1zM1203 525h1v1h-1zM1197 519h1v1h-1zM1209 519h1v1h-1z"/>
<path class="c" fill="#c04000" d="M1206 515h7v1h-7zM1206 525h7v1h-7zM1204 517h1v7h-1zM1214 517h1v7h-1zM1205 516h1v1h-1zM1206 516h1v1h-1zM1205 517h1v1h-1zM1205 524h1v1h-1zM1206 524h1v1h-1zM1205 523h1v1h-1zM1213 516h1v1h-1zM1212 516h1v1h-1zM1213 517h1v1h-1zM1213 524h1v1h-1zM1212 524h1v1h-1zM1213 523h1v1h-1zM1209 514h1v1h-1zM1209 526h1v1h-1zM1203 520h1v1h-1zM1215 520h1v1h-1z"/>
<path class="c" fill="#c04000" d="M1253 513h7v1h-7zM1253 523h7v1h-7zM1251 515h1v7h-1zM1261 515h1v7h-1zM1252 514h1v1h-1zM1253 514h1v1h-1zM1252 515h1v1h-1zM1252 522h1v1h-1zM1253 522h1v1h-1zM1252 521h1v1h-1zM1260 514h1v1h-1zM1259 514h1v1h-1zM1260 515h1v1h-1zM1260 522h1v1h-1zM1259 522h1v1h-1zM1260 521h1v1h-1zM1256 512h1v1h-1zM1256 524h1v1h-1zM1250 518h1v1h-1zM1262 518h1v1h-1z"/>
<path class="c" fill="#c04000" d="M1259 512h7v1h-7zM1259 522h7v1h-7zM1257 514h1v7h-1zM1267 514h1v7h-1zM1258 513h1v1h-1zM1259 513h1v1h-1zM1258 514h1v1h-1zM1258 521h1v1h-1zM1259 521h1v1h-1zM1258 520h1v1h-1zM1266 513h1v1h-1zM1265 513h1v1h-1zM1266 514h1v1h-1zM1266 521h1v1h-1zM1265 521h1v1h-1zM1266 520h1v1h-1zM1262 511h1v1h-1zM1262 523h1v1h-1zM1256 517h1v1h-1zM1268 517h1v1h-1z"/>
<path class="c" fill="#c04000" d="M1306 512h7v1h-7zM1306 522h7v1h-7zM1304 514h1v7h-1zM1314 514h1v7h-1zM1305 513h1v1h-1zM1306 513h1v1h-1zM1305 514h1v1h-1zM1305 521h1v1h-1zM1306 521h1v1h-1zM1305 520h1v1h-1zM1313 513h1v1h-1zM1312 513h1v1h-1zM1313 514h1v1h-1zM1313 521h1v1h-1zM1312 521h1v1h-1zM1313 520h1v1h-1zM1309 511h1v1h-1zM1309 523h1v1h-1zM1303 517h1v1h-1zM1315 517h1v1h-1z"/>
<path class="c" fill="#c04000" d="M1312 517h7v1h-7zM1312 527h7v1h-7zM1310 519h1v7h-1zM1320 519h1v7h-1zM1311 518h1v1h-1zM1312 518h1v1h-1zM1311 519h1v1h-1zM1311 526h1v1h-1zM1312 526h1v1h-1zM1311 525h1v1h-1zM1319 518h1v1h-1zM1318 518h1v1h-1zM1319 519h1v1h-1zM1319 526h1v1h-1zM1318 526h1v1h-1zM1319 525h1v1h-1zM1315 516h1v1h-1zM1315 528h1v1h-1zM1309 522h1v1h-1zM1321 522h1v1h-1z"/>
<path class="c" fill="#c04000" d="M1359 515h7v1h-7zM1359 525h7v1h-7zM1357 517h1v7h-1zM1367 517h1v7h-1zM1358 516h1v1h-1zM1359 516h1v1h-1zM1358 517h1v1h-1zM1358 524h1v1h-1zM1359 524h1v1h-1zM1358 523h1v1h-1zM1366 516h1v1h-1zM1365 516h1v1h-1zM1366 517h1v1h-1zM1366 524h1v1h-1zM1365 524h1v1h-1zM1366 523h1v1h-1zM1362 514h1v1h-1zM1362 526h1v1h-1zM1356 520h1v1h-1zM1368 520h1v1h-1z"/>
<path class="c" fill="#c8c800" d="M103 533h1v1h-1z M103 545h1v1h-1zM100 534h7v1h-7zM99 535h9v1h-9zM98 536h11v1h-11zM98 537h11v1h-11zM98 538h11v1h-11zM98 539h11v1h-11zM98 540h11v1h-11zM98 541h11v1h-11zM98 542h11v1h-11zM99 543h9v1h-9zM100 544h7v1h-7z"/>
<path class="c" fill="#c8c800" d="M149 533h1v1h-1z M149 545h1v1h-1zM146 534h7v1h-7zM145 535h9v1h-9zM144 536h11v1h-11zM144 537h11v1h-11zM144 538h11v1h-11zM144 539h11v1h-11zM144 540h11v1h-11zM144 541h11v1h-11zM144 542h11v1h-11zM145 543h9v1h-9zM146 544h7v1h-7z"/>
<path class="c" fill="#c8c800" d="M208 533h1v1h-1z M208 545h1v1h-1zM205 534h7v1h-7zM204 535h9v1h-9zM203 536h11v1h-11zM203 537h11v1h-11zM203 538h11v1h-11zM203 539h11v1h-11zM203 540h11v1h-11zM203 541h11v1h-11zM203 542h11v1h-11zM204 543h9v1h-9zM205 544h7v1h-7z"/>
<path class="c" fill="#c8c800" d="M256 533h1v1h-1z M256 545h1v1h-1zM253 534h7v1h-7zM252 535h9v1h-9zM251 536h11v1h-11zM251 537h11v1h-11zM251 538h11v1h-11zM251 539h11v1h-11zM251 540h11v1h-11zM251 541h11v1h-11zM251 542h11v1h-11zM252 543h9v1h-9zM253 544h7v1h-7z"/>
<path class="c" fill="#c8c800" d="M262 533h1v1h-1z M262 545h1v1h-1zM259 534h7v1h-7zM258 535h9v1h-9zM257 536h11v1h-11zM257 537h11v1h-11zM257 538h11v1h-11zM257 539h11v1h-11zM257 540h11v1h-11zM257 541h11v1h-11zM257 542h11v1h-11zM258 543h9v1h-9zM259 544h7v1h-7z"/>
<path class="c" fill="#c8c800" d="M307 533h1v1h-1z M307 545h1v1h-1zM304 534h7v1h-7zM303 535h9v1h-9zM302 536h11v1h-11zM302 537h11v1h-11zM302 538h11v1h-11zM302 539h11v1h-11zM302 540h11v1h-11zM302 541h11v1h-11zM302 542h11v1h-11zM303 543h9v1h-9zM304 544h7v1h-7z"/>
<path class="c" fill="#c8c800" d="M314 533h1v1h-1z M314 545h1v1h-1zM311 534h7v1h-7zM310 535h9v1h-9zM309 536h11v1h-11zM309 537h11v1h-11zM309 538h11v1h-11zM309 539h11v1h-11zM309 540h11v1h-11zM309 541h11v1h-11zM309 542h11v1h-11zM310 543h9v1h-9zM311 544h7v1h-7z"/>
<path class="c" fill="#c8c800" d="M360 533h1v1h-1z M360 545h1v1h-1zM357 534h7v1h-7zM356 535h9v1h-9zM355 536h11v1h-11zM355 537h11v1h-11zM355 538h11v1h-11zM355 539h11v1h-11zM355 540h11v1h-11zM355 541h11v1h-11zM355 542h11v1h-11zM356 543h9v1h-9zM357 544h7v1h-7z"/>
<path class="c" fill="#c8c800" d="M366 533h1v1h-1z M366 545h1v1h-1zM363 534h7v1h-7zM362 535h9v1h-9zM361 536h11v1h-11zM361 537h11v1h-11zM361 538h11v1h-11zM361 539h11v1h-11zM361 540h11v1h-11zM361 541h11v1h-11zM361 542h11v1h-11zM362 543h9v1h-9zM363 544h7v1h-7z"/>
<path class="c" fill="#c8c800" d="M413 533h1v1h-1z M413 545h1v1h-1zM410 534h7v1h-7zM409 535h9v1h-9zM408 536h11v1h-11zM408 537h11v1h-11zM408 538h11v1h-11zM408 539h11v1h-11zM408 540h11v1h-11zM408 541h11v1h-11zM408 542h11v1h-11zM409 543h9v1h-9zM410 544h7v1h-7z"/>
<path class="c" fill="#c8c800" d="M419 533h1v1h-1z M419 545h1v1h-1zM416 534h7v1h-7zM415 535h9v1h-9zM414 536h11v1h-11zM414 537h11v1h-11zM414 538h11v1h-11zM414 539h11v1h-11zM414 540h11v1h-11zM414 541h11v1h-11zM414 542h11v1h-11zM415 543h9v1h-9zM416 544h7v1h-7z"/>
<path class="c" fill="#c8c800" d="M466 533h1v1h-1z M466 545h1v1h-1zM463 534h7v1h-7zM462 535h9v1h-9zM461 536h11v1h-11zM461 537h11v1h-11zM461 538h11v1h-11zM461 539h11v1h-11zM461 540h11v1h-11zM461 541h11v1h-11zM461 542h11v1h-11zM462 543h9v1h-9zM463 544h7v1h-7z"/>
<path class="c" fill="#c8c800" d="M472 533h1v1h-1z M472 545h1v1h-1zM469 534h7v1h-7zM468 535h9v1h-9zM467 536h11v1h-11zM467 537h11v1h-11zM467 538h11v1h-11zM467 539h11v1h-11zM467 540h11v1h-11zM467 541h11v1h-11zM467 542h11v1h-11zM468 543h9v1h-9zM469 544h7v1h-7z"/>
<path class="c" fill="#c8c800" d="M518 533h1v1h-1z M518 545h1v1h-1zM515 534h7v1h-7zM514 535h9v1h-9zM513 536h11v1h-11zM513 537h11v1h-11zM513 538h11v1h-11zM513 539h11v1h-11zM513 540h11v1h-11zM513 541h11v1h-11zM513 542h11v1h-11zM514 543h9v1h-9zM515 544h7v1h-7z"/>
<path class="c" fill="#c8c800" d="M524 533h1v1h-1z M524 545h1v1h-1zM521 534h7v1h-7zM520 535h9v1h-9zM519 536h11v1h-11zM519 537h11v1h-11zM519 538h11v1h-11zM519 539h11v1h-11zM519 540h11v1h-11zM519 541h11v1h-11zM519 542h11v1h-11zM520 543h9v1h-9zM521 544h7v1h-7z"/>
<path class="c" fill="#c8c800" d="M571 533h1v1h-1z M571 545h1v1h-1zM568 534h7v1h-7zM567 535h9v1h-9zM566 536h11v1h-11zM566 537h11v1h-11zM566 538h11v1h-11zM566 539h11v1h-11zM566 540h11v1h-11zM566 541h11v1h-11zM566 542h11v1h-11zM567 543h9v1h-9zM568 544h7v1h-7z"/>
<path class="c" fill="#c8c800" d="M577 533h1v1h-1z M577 545h1v1h-1zM574 534h7v1h-7zM573 535h9v1h-9zM572 536h11v1h-11zM572 537h11v1h-11zM572 538h11v1h-11zM572 539h11v1h-11zM572 540h11v1h-11zM572 541h11v1h-11zM572 542h11v1h-11zM573 543h9v1h-9zM574 544h7v1h-7z"/>
<path class="c" fill="#c8c800" d="M624 533h1v1h-1z M624 545h1v1h-1zM621 534h7v1h-7zM620 535h9v1h-9zM619 536h11v1h-11zM619 537h11v1h-11zM619 538h11v1h-11zM619 539h11v1h-11zM619 540h11v1h-11zM619 541h11v1h-11zM619 542h11v1h-11zM620 543h9v1h-9zM621 544h7v1h-7z"/>
<path class="c" fill="#c8c800" d="M630 533h1v1h-1z M630 545h1v1h-1zM627 534h7v1h-7zM626 535h9v1h-9zM625 536h11v1h-11zM625 537h11v1h-11zM625 538h11v1h-11zM625 539h11v1h-11zM625 540h11v1h-11zM625 541h11v1h-11zM625 542h11v1h-11zM626 543h9v1h-9zM627 544h7v1h-7z"/>
<path class="c" fill="#c8c800" d="M676 533h1v1h-1z M676 545h1v1h-1zM673 534h7v1h-7zM672 535h9v1h-9zM671 536h11v1h-11zM671 537h11v1h-11zM671 538h11v1h-11zM671 539h11v1h-11zM671 540h11v1h-11zM671 541h11v1h-11zM671 542h11v1h-11zM672 543h9v1h-9zM673 544h7v1h-7z"/>
<path class="c" fill="#c8c800" d="M682 533h1v1h-1z M682 545h1v1h-1zM679 534h7v1h-7zM678 535h9v1h-9zM677 536h11v1h-11zM677 537h11v1h-11zM677 538h11v1h-11zM677 539h11v1h-11zM677 540h11v1h-11zM677 541h11v1h-11zM677 542h11v1h-11zM678 543h9v1h-9zM679 544h7v1h-7z"/>
<path class="c" fill="#c8c800" d="M729 533h1v1h-1z M729 545h1v1h-1zM726 534h7v1h-7zM725 535h9v1h-9zM724 536h11v1h-11zM724 537h11v1h-11zM724 538h11v1h-11zM724 539h11v1h-11zM724 540h11v1h-11zM724 541h11v1h-11zM724 542h11v1h-11zM725 543h9v1h-9zM726 544h7v1h-7z"/>
<path class="c" fill="#c8c800" d="M735 533h1v1h-1z M735 545h1v1h-1zM732 534h7v1h-7zM731 535h9v1h-9zM730 536h11v1h-11zM730 537h11v1h-11zM730 538h11v1h-11zM730 539h11v1h-11zM730 540h11v1h-11zM730 541h11v1h-11zM730 542h11v1h-11zM731 543h9v1h-9zM732 544h7v1h-7z"/>
<path class="c" fill="#c8c800" d="M782 533h1v1h-1z M782 545h1v1h-1zM779 534h7v1h-7zM778 535h9v1h-9zM777 536h11v1h-11zM777 537h11v1h-11zM777 538h11v1h-11zM777 539h11v1h-11zM777 540h11v1h-11zM777 541h11v1h-11zM777 542h11v1h-11zM778 543h9v1h-9zM779 544h7v1h-7z"/>
<path class="c" fill="#c8c800" d="M788 533h1v1h-1z M788 545h1v1h-1zM785 534h7v1h-7zM784 535h9v1h-9zM783 536h11v1h-11zM783 537h11v1h-11zM783 538h11v1h-11zM783 539h11v1h-11zM783 540h11v1h-11zM783 541h11v1h-11zM783 542h11v1h-11zM784 543h9v1h-9zM785 544h7v1h-7z"/>
<path class="c" fill="#c8c800" d="M835 533h1v1h-1z M835 545h1v1h-1zM832 534h7v1h-7zM831 535h9v1h-9zM830 536h11v1h-11zM830 537h11v1h-11zM830 538h11v1h-11zM830 539h11v1h-11zM830 540h11v1h-11zM830 541h11v1h-11zM830 542h11v1h-11zM831 543h9v1h-9zM832 544h7v1h-7z"/>
<path class="c" fill="#c8c800" d="M841 533h1v1h-1z M841 545h1v1h-1zM838 534h7v1h-7zM837 535h9v1h-9zM836 536h11v1h-11zM836 537h11v1h-11zM836 538h11v1h-11zM836 539h11v1h-11zM836 540h11v1h-11zM836 541h11v1h-11zM836 542h11v1h-11zM837 543h9v1h-9zM838 544h7v1h-7z"/>
<path class="c" fill="#c8c800" d="M887 533h1v1h-1z M887 545h1v1h-1zM884 534h7v1h-7zM883 535h9v1h-9zM882 536h11v1h-11zM882 537h11v1h-11zM882 538h11v1h-11zM882 539h11v1h-11zM882 540h11v1h-11zM882 541h11v1h-11zM882 542h11v1h-11zM883 543h9v1h-9zM884 544h7v1h-7z"/>
<path class="c" fill="#c8c800" d="M893 533h1v1h-1z M893 545h1v1h-1zM890 534h7v1h-7zM889 535h9v1h-9zM888 536h11v1h-11zM888 537h11v1h-11zM888 538h11v1h-11zM888 539h11v1h-11zM888 540h11v1h-11zM888 541h11v1h-11zM888 542h11v1h-11zM889 543h9v1h-9zM890 544h7v1h-7z"/>
<path class="c" fill="#c8c800" d="M940 533h1v1h-1z M940 545h1v1h-1zM937 534h7v1h-7zM936 535h9v1h-9zM935 536h11v1h-11zM935 537h11v1h-11zM935 538h11v1h-11zM935 539h11v1h-11zM935 540h11v1h-11zM935 541h11v1h-11zM935 542h11v1h-11zM936 543h9v1h-9zM937 544h7v1h-7z"/>
<path class="c" fill="#c8c800" d="M946 533h1v1h-1z M946 545h1v1h-1zM943 534h7v1h-7zM942 535h9v1h-9zM941 536h11v1h-11zM941 537h11v1h-11zM941 538h11v1h-11zM941 539h11v1h-11zM941 540h11v1h-11zM941 541h11v1h-11zM941 542h11v1h-11zM942 543h9v1h-9zM943 544h7v1h-7z"/>
<path class="c" fill="#c8c800" d="M993 533h1v1h-1z M993 545h1v1h-1zM990 534h7v1h-7zM989 535h9v1h-9zM988 536h11v1h-11zM988 537h11v1h-11zM988 538h11v1h-11zM988 539h11v1h-11zM988 540h11v1h-11zM988 541h11v1h-11zM988 542h11v1h-11zM989 543h9v1h-9zM990 544h7v1h-7z"/>
<path class="c" fill="#c8c800" d="M999 533h1v1h-1z M999 545h1v1h-1zM996 534h7v1h-7zM995 535h9v1h-9zM994 536h11v1h-11zM994 537h11v1h-11zM994 538h11v1h-11zM994 539h11v1h-11zM994 540h11v1h-11zM994 541h11v1h-11zM994 542h11v1h-11zM995 543h9v1h-9zM996 544h7v1h-7z"/>
<path class="c" fill="#c8c800" d="M1046 533h1v1h-1z M1046 545h1v1h-1zM1043 534h7v1h-7zM1042 535h9v1h-9zM1041 536h11v1h-11zM1041 537h11v1h-11zM1041 538h11v1h-11zM1041 539h11v1h-11zM1041 540h11v1h-11zM1041 541h11v1h-11zM1041 542h11v1h-11zM1042 543h9v1h-9zM1043 544h7v1h-7z"/>
<path class="c" fill="#c8c800" d="M1052 533h1v1h-1z M1052 545h1v1h-1zM1049 534h7v1h-7zM1048 535h9v1h-9zM1047 536h11v1h-11zM1047 537h11v1h-11zM1047 538h11v1h-11zM1047 539h11v1h-11zM1047 540h11v1h-11zM1047 541h11v1h-11zM1047 542h11v1h-11zM1048 543h9v1h-9zM1049 544h7v1h-7z"/>
<path class="c" fill="#c8c800" d="M1098 533h1v1h-1z M1098 545h1v1h-1zM1095 534h7v1h-7zM1094 535h9v1h-9zM1093 536h11v1h-11zM1093 537h11v1h-11zM1093 538h11v1h-11zM1093 539h11v1h-11zM1093 540h11v1h-11zM1093 541h11v1h-11zM1093 542h11v1h-11zM1094 543h9v1h-9zM1095 544h7v1h-7z"/>
<path class="c" fill="#c8c800" d="M1104 533h1v1h-1z M1104 545h1v1h-1zM1101 534h7v1h-7zM1100 535h9v1h-9zM1099 536h11v1h-11zM1099 537h11v1h-11zM1099 538h11v1h-11zM1099 539h11v1h-11zM1099 540h11v1h-11zM1099 541h11v1h-11zM1099 542h11v1h-11zM1100 543h9v1h-9zM1101 544h7v1h-7z"/>
<path class="c" fill="#c8c800" d="M1151 533h1v1h-1z M1151 545h1v1h-1zM1148 534h7v1h-7zM1147 535h9v1h-9zM1146 536h11v1h-11zM1146 537h11v1h-11zM1146 538h11v1h-11zM1146 539h11v1h-11zM1146 540h11v1h-11zM1146 541h11v1h-11zM1146 542h11v1h-11zM1147 543h9v1h-9zM1148 544h7v1h-7z"/>
<path class="c" fill="#c8c800" d="M1157 533h1v1h-1z M1157 545h1v1h-1zM1154 534h7v1h-7zM1153 535h9v1h-9zM1152 536h11v1h-11zM1152 537h11v1h-11zM1152 538h11v1h-11zM1152 539h11v1h-11zM1152 540h11v1h-11zM1152 541h11v1h-11zM1152 542h11v1h-11zM1153 543h9v1h-9zM1154 544h7v1h-7z"/>
<path class="c" fill="#c8c800" d="M1203 533h1v1h-1z M1203 545h1v1h-1zM1200 534h7v1h-7zM1199 535h9v1h-9zM1198 536h11v1h-11zM1198 537h11v1h-11zM1198 538h11v1h-11zM1198 539h11v1h-11zM1198 540h11v1h-11zM1198 541h11v1h-11zM1198 542h11v1h-11zM1199 543h9v1h-9zM1200 544h7v1h-7z"/>
<path class="c" fill="#c8c800" d="M1209 533h1v1h-1z M1209 545h1v1h-1zM1206 534h7v1h-7zM1205 535h9v1h-9zM1204 536h11v1h-11zM1204 537h11v1h-11zM1204 538h11v1h-11zM1204 539h11v1h-11zM1204 540h11v1h-11zM1204 541h11v1h-11zM1204 542h11v1h-11zM1205 543h9v1h-9zM1206 544h7v1h-7z"/>
<path class="c" fill="#c8c800" d="M1256 533h1v1h-1z M1256 545h1v1h-1zM1253 534h7v1h-7zM1252 535h9v1h-9zM1251 536h11v1h-11zM1251 537h11v1h-11zM1251 538h11v1h-11zM1251 539h11v1h-11zM1251 540h11v1h-11zM1251 541h11v1h-11zM1251 542h11v1h-11zM1252 543h9v1h-9zM1253 544h7v1h-7z"/>
<path class="c" fill="#c8c800" d="M1262 533h1v1h-1z M1262 545h1v1h-1zM1259 534h7v1h-7zM1258 535h9v1h-9zM1257 536h11v1h-11zM1257 537h11v1h-11zM1257 538h11v1h-11zM1257 539h11v1h-11zM1257 540h11v1h-11zM1257 541h11v1h-11zM1257 542h11v1h-11zM1258 543h9v1h-9zM1259 544h7v1h-7z"/>
<path class="c" fill="#c8c800" d="M1309 533h1v1h-1z M1309 545h1v1h-1zM1306 534h7v1h-7zM1305 535h9v1h-9zM1304 536h11v1h-11zM1304 537h11v1h-11zM1304 538h11v1h-11zM1304 539h11v1h-11zM1304 540h11v1h-11zM1304 541h11v1h-11zM1304 542h11v1h-11zM1305 543h9v1h-9zM1306 544h7v1h-7z"/>
<path class="c" fill="#c8c800" d="M1315 533h1v1h-1z M1315 545h1v1h-1zM1312 534h7v1h-7zM1311 535h9v1h-9zM1310 536h11v1h-11zM1310 537h11v1h-11zM1310 538h11v1h-11zM1310 539h11v1h-11zM1310 540h11v1h-11zM1310 541h11v1h-11zM1310 542h11v1h-11zM1311 543h9v1h-9zM1312 544h7v1h-7z"/>
<path class="c" fill="#c8c800" d="M1362 533h1v1h-1z M1362 545h1v1h-1zM1359 534h7v1h-7zM1358 535h9v1h-9zM1357 536h11v1h-11zM1357 537h11v1h-11zM1357 538h11v1h-11zM1357 539h11v1h-11zM1357 540h11v1h-11zM1357 541h11v1h-11zM1357 542h11v1h-11zM1358 543h9v1h-9zM1359 544h7v1h-7z"/>
<path class="c" d="M103.5 456.5L95.5 468.5H111.5Z" fill="none" stroke="#4169e1"/>
<path class="c" d="M111.5 456.5L103.5 468.5H119.5Z" fill="none" stroke="#4169e1"/>
<path class="c" d="M113.5 456.5L105.5 468.5H121.5Z" fill="none" stroke="#4169e1"/>
<path class="c" d="M121.5 456.5L113.5 468.5H129.5Z" fill="none" stroke="#4169e1"/>
<path class="c" d="M123.5 456.5L115.5 468.5H131.5Z" fill="none" stroke="#4169e1"/>
<path class="c" d="M131.5 456.5L123.5 468.5H139.5Z" fill="none" stroke="#4169e1"/>
<path class="c" d="M133.5 456.5L125.5 468.5H141.5Z" fill="none" stroke="#4169e1"/>
<path class="c" d="M141.5 456.5L133.5 468.5H149.5Z" fill="none" stroke="#4169e1"/>
<path class="c" d="M142.5 456.5L134.5 468.5H150.5Z" fill="none" stroke="#4169e1"/>
<path class="c" d="M206.5 456.5L198.5 468.5H214.5Z" fill="none" stroke="#4169e1"/>
<path class="c" d="M209.5 456.5L201.5 468.5H217.5Z" fill="none" stroke="#4169e1"/>
<path class="c" d="M217.5 456.5L209.5 468.5H225.5Z" fill="none" stroke="#4169e1"/>
<path class="c" d="M219.5 456.5L211.5 468.5H227.5Z" fill="none" stroke="#4169e1"/>
<path class="c" d="M227.5 456.5L219.5 468.5H235.5Z" fill="none" stroke="#4169e1"/>
<path class="c" d="M228.5 456.5L220.5 468.5H236.5Z" fill="none" stroke="#4169e1"/>
<path class="c" d="M236.5 456.5L228.5 468.5H244.5Z" fill="none" stroke="#4169e1"/>
<path class="c" d="M239.5 456.5L231.5 468.5H247.5Z" fill="none" stroke="#4169e1"/>
<path class="c" d="M246.5 456.5L238.5 468.5H254.5Z" fill="none" stroke="#4169e1"/>
<path class="c" d="M249.5 456.5L241.5 468.5H257.5Z" fill="none" stroke="#4169e1"/>
<path class="c" d="M261.5 456.5L253.5 468.5H269.5Z" fill="none" stroke="#4169e1"/>
<path class="c" d="M269.5 456.5L261.5 468.5H277.5Z" fill="none" stroke="#4169e1"/>
<path class="c" d="M272.5 456.5L264.5 468.5H280.5Z" fill="none" stroke="#4169e1"/>
<path class="c" d="M279.5 456.5L271.5 468.5H287.5Z" fill="none" stroke="#4169e1"/>
<path class="c" d="M282.5 456.5L274.5 468.5H290.5Z" fill="none" stroke="#4169e1"/>
<path class="c" d="M289.5 456.5L281.5 468.5H297.5Z" fill="none" stroke="#4169e1"/>
<path class="c" d="M291.5 456.5L283.5 468.5H299.5Z" fill="none" stroke="#4169e1"/>
<path class="c" d="M300.5 456.5L292.5 468.5H308.5Z" fill="none" stroke="#4169e1"/>
<path class="c" d="M301.5 456.5L293.5 468.5H309.5Z" fill="none" stroke="#4169e1"/>
<path class="c" d="M314.5 456.5L306.5 468.5H322.5Z" fill="none" stroke="#4169e1"/>
<path class="c" d="M322.5 456.5L314.5 468.5H330.5Z" fill="none" stroke="#4169e1"/>
<path class="c" d="M324.5 456.5L316.5 468.5H332.5Z" fill="none" stroke="#4169e1"/>
<path class="c" d="M332.5 456.5L324.5 468.5H340.5Z" fill="none" stroke="#4169e1"/>
<path class="c" d="M334.5 456.5L326.5 468.5H342.5Z" fill="none" stroke="#4169e1"/>
<path class="c" d="M342.5 456.5L334.5 468.5H350.5Z" fill="none" stroke="#4169e1"/>
<path class="c" d="M343.5 456.5L335.5 468.5H351.5Z" fill="none" stroke="#4169e1"/>
<path class="c" d="M352.5 456.5L344.5 468.5H360.5Z" fill="none" stroke="#4169e1"/>
<path class="c" d="M354.5 456.5L346.5 468.5H362.5Z" fill="none" stroke="#4169e1"/>
<path class="c" d="M367.5 456.5L359.5 468.5H375.5Z" fill="none" stroke="#4169e1"/>
<path class="c" d="M375.5 456.5L367.5 468.5H383.5Z" fill="none" stroke="#4169e1"/>
<path class="c" d="M377.5 456.5L369.5 468.5H385.5Z" fill="none" stroke="#4169e1"/>
<path class="c" d="M385.5 456.5L377.5 468.5H393.5Z" fill="none" stroke="#4169e1"/>
<path class="c" d="M387.5 456.5L379.5 468.5H395.5Z" fill="none" stroke="#4169e1"/>
<path class="c" d="M394.5 456.5L386.5 468.5H402.5Z" fill="none" stroke="#4169e1"/>
<path class="c" d="M397.5 456.5L389.5 468.5H405.5Z" fill="none" stroke="#4169e1"/>
<path class="c" d="M405.5 456.5L397.5 468.5H413.5Z" fill="none" stroke="#4169e1"/>
<path class="c" d="M407.5 456.5L399.5 468.5H415.5Z" fill="none" stroke="#4169e1"/>
<path class="c" d="M419.5 456.5L411.5 468.5H427.5Z" fill="none" stroke="#4169e1"/>
<path class="c" d="M427.5 456.5L419.5 468.5H435.5Z" fill="none" stroke="#4169e1"/>
<path class="c" d="M430.5 456.5L422.5 468.5H438.5Z" fill="none" stroke="#4169e1"/>
<path class="c" d="M437.5 456.5L429.5 468.5H445.5Z" fill="none" stroke="#4169e1"/>
<path class="c" d="M440.5 456.5L432.5 468.5H448.5Z" fill="none" stroke="#4169e1"/>
<path class="c" d="M447.5 456.5L439.5 468.5H455.5Z" fill="none" stroke="#4169e1"/>
<path class="c" d="M449.5 456.5L441.5 468.5H457.5Z" fill="none" stroke="#4169e1"/>
<path class="c" d="M457.5 456.5L449.5 468.5H465.5Z" fill="none" stroke="#4169e1"/>
<path class="c" d="M460.5 456.5L452.5 468.5H468.5Z" fill="none" stroke="#4169e1"/>
<path class="c" d="M472.5 456.5L464.5 468.5H480.5Z" fill="none" stroke="#4169e1"/>
<path class="c" d="M480.5 456.5L472.5 468.5H488.5Z" fill="none" stroke="#4169e1"/>
<path class="c" d="M482.5 456.5L474.5 468.5H490.5Z" fill="none" stroke="#4169e1"/>
<path class="c" d="M490.5 456.5L482.5 468.5H498.5Z" fill="none" stroke="#4169e1"/>
<path class="c" d="M492.5 456.5L484.5 468.5H500.5Z" fill="none" stroke="#4169e1"/>
<path class="c" d="M500.5 456.5L492.5 468.5H508.5Z" fill="none" stroke="#4169e1"/>
<path class="c" d="M502.5 456.5L494.5 468.5H510.5Z" fill="none" stroke="#4169e1"/>
<path class="c" d="M510.5 456.5L502.5 468.5H518.5Z" fill="none" stroke="#4169e1"/>
<path class="c" d="M512.5 456.5L504.5 468.5H520.5Z" fill="none" stroke="#4169e1"/>
<path class="c" d="M525.5 456.5L517.5 468.5H533.5Z" fill="none" stroke="#4169e1"/>
<path class="c" d="M533.5 456.5L525.5 468.5H541.5Z" fill="none" stroke="#4169e1"/>
<path class="c" d="M535.5 456.5L527.5 468.5H543.5Z" fill="none" stroke="#4169e1"/>
<path class="c" d="M543.5 456.5L535.5 468.5H551.5Z" fill="none" stroke="#4169e1"/>
<path class="c" d="M545.5 456.5L537.5 468.5H553.5Z" fill="none" stroke="#4169e1"/>
<path class="c" d="M553.5 456.5L545.5 468.5H561.5Z" fill="none" stroke="#4169e1"/>
<path class="c" d="M554.5 456.5L546.5 468.5H562.5Z" fill="none" stroke="#4169e1"/>
<path class="c" d="M563.5 456.5L555.5 468.5H571.5Z" fill="none" stroke="#4169e1"/>
<path class="c" d="M565.5 456.5L557.5 468.5H573.5Z" fill="none" stroke="#4169e1"/>
<path class="c" d="M577.5 456.5L569.5 468.5H585.5Z" fill="none" stroke="#4169e1"/>
<path class="c" d="M585.5 456.5L577.5 468.5H593.5Z" fill="none" stroke="#4169e1"/>
<path class="c" d="M588.5 456.5L580.5 468.5H596.5Z" fill="none" stroke="#4169e1"/>
<path class="c" d="M596.5 456.5L588.5 468.5H604.5Z" fill="none" stroke="#4169e1"/>
<path class="c" d="M597.5 456.5L589.5 468.5H605.5Z" fill="none" stroke="#4169e1"/>
<path class="c" d="M605.5 456.5L597.5 468.5H613.5Z" fill="none" stroke="#4169e1"/>
<path class="c" d="M608.5 456.5L600.5 468.5H616.5Z" fill="none" stroke="#4169e1"/>
<path class="c" d="M615.5 456.5L607.5 468.5H623.5Z" fill="none" stroke="#4169e1"/>
<path class="c" d="M618.5 456.5L610.5 468.5H626.5Z" fill="none" stroke="#4169e1"/>
<path class="c" d="M630.5 456.5L622.5 468.5H638.5Z" fill="none" stroke="#4169e1"/>
<path class="c" d="M638.5 456.5L630.5 468.5H646.5Z" fill="none" stroke="#4169e1"/>
<path class="c" d="M641.5 456.5L633.5 468.5H649.5Z" fill="none" stroke="#4169e1"/>
<path class="c" d="M648.5 456.5L640.5 468.5H656.5Z" fill="none" stroke="#4169e1"/>
<path class="c" d="M651.5 456.5L643.5 468.5H659.5Z" fill="none" stroke="#4169e1"/>
<path class="c" d="M658.5 456.5L650.5 468.5H666.5Z" fill="none" stroke="#4169e1"/>
<path class="c" d="M660.5 456.5L652.5 468.5H668.5Z" fill="none" stroke="#4169e1"/>
<path class="c" d="M669.5 456.5L661.5 468.5H677.5Z" fill="none" stroke="#4169e1"/>
<path class="c" d="M670.5 456.5L662.5 468.5H678.5Z" fill="none" stroke="#4169e1"/>
<path class="c" d="M683.5 456.5L675.5 468.5H691.5Z" fill="none" stroke="#4169e1"/>
<path class="c" d="M691.5 456.5L683.5 468.5H699.5Z" fill="none" stroke="#4169e1"/>
<path class="c" d="M693.5 456.5L685.5 468.5H701.5Z" fill="none" stroke="#4169e1"/>
<path class="c" d="M701.5 456.5L693.5 468.5H709.5Z" fill="none" stroke="#4169e1"/>
<path class="c" d="M703.5 456.5L695.5 468.5H711.5Z" fill="none" stroke="#4169e1"/>
<path class="c" d="M711.5 456.5L703.5 468.5H719.5Z" fill="none" stroke="#4169e1"/>
<path class="c" d="M712.5 456.5L704.5 468.5H720.5Z" fill="none" stroke="#4169e1"/>
<path class="c" d="M721.5 456.5L713.5 468.5H729.5Z" fill="none" stroke="#4169e1"/>
<path class="c" d="M723.5 456.5L715.5 468.5H731.5Z" fill="none" stroke="#4169e1"/>
<path class="c" d="M736.5 456.5L728.5 468.5H744.5Z" fill="none" stroke="#4169e1"/>
<path class="c" d="M744.5 456.5L736.5 468.5H752.5Z" fill="none" stroke="#4169e1"/>
<path class="c" d="M746.5 456.5L738.5 468.5H754.5Z" fill="none" stroke="#4169e1"/>
<path class="c" d="M754.5 456.5L746.5 468.5H762.5Z" fill="none" stroke="#4169e1"/>
<path class="c" d="M755.5 456.5L747.5 468.5H763.5Z" fill="none" stroke="#4169e1"/>
<path class="c" d="M763.5 456.5L755.5 468.5H771.5Z" fill="none" stroke="#4169e1"/>
<path class="c" d="M766.5 456.5L758.5 468.5H774.5Z" fill="none" stroke="#4169e1"/>
<path class="c" d="M774.5 456.5L766.5 468.5H782.5Z" fill="none" stroke="#4169e1"/>
<path class="c" d="M776.5 456.5L768.5 468.5H784.5Z" fill="none" stroke="#4169e1"/>
<path class="c" d="M788.5 456.5L780.5 468.5H796.5Z" fill="none" stroke="#4169e1"/>
<path class="c" d="M796.5 456.5L788.5 468.5H804.5Z" fill="none" stroke="#4169e1"/>
<path class="c" d="M799.5 456.5L791.5 468.5H807.5Z" fill="none" stroke="#4169e1"/>
<path class="c" d="M806.5 456.5L798.5 468.5H814.5Z" fill="none" stroke="#4169e1"/>
<path class="c" d="M809.5 456.5L801.5 468.5H817.5Z" fill="none" stroke="#4169e1"/>
<path class="c" d="M816.5 456.5L808.5 468.5H824.5Z" fill="none" stroke="#4169e1"/>
<path class="c" d="M818.5 456.5L810.5 468.5H826.5Z" fill="none" stroke="#4169e1"/>
<path class="c" d="M827.5 456.5L819.5 468.5H835.5Z" fill="none" stroke="#4169e1"/>
<path class="c" d="M828.5 456.5L820.5 468.5H836.5Z" fill="none" stroke="#4169e1"/>
<path class="c" d="M841.5 456.5L833.5 468.5H849.5Z" fill="none" stroke="#4169e1"/>
<path class="c" d="M849.5 456.5L841.5 468.5H857.5Z" fill="none" stroke="#4169e1"/>
<path class="c" d="M851.5 456.5L843.5 468.5H859.5Z" fill="none" stroke="#4169e1"/>
<path class="c" d="M859.5 456.5L851.5 468.5H867.5Z" fill="none" stroke="#4169e1"/>
<path class="c" d="M861.5 456.5L853.5 468.5H869.5Z" fill="none" stroke="#4169e1"/>
<path class="c" d="M869.5 456.5L861.5 468.5H877.5Z" fill="none" stroke="#4169e1"/>
<path class="c" d="M871.5 456.5L863.5 468.5H879.5Z" fill="none" stroke="#4169e1"/>
<path class="c" d="M879.5 456.5L871.5 468.5H887.5Z" fill="none" stroke="#4169e1"/>
<path class="c" d="M881.5 456.5L873.5 468.5H889.5Z" fill="none" stroke="#4169e1"/>
<path class="c" d="M894.5 456.5L886.5 468.5H902.5Z" fill="none" stroke="#4169e1"/>
<path class="c" d="M902.5 456.5L894.5 468.5H910.5Z" fill="none" stroke="#4169e1"/>
<path class="c" d="M904.5 456.5L896.5 468.5H912.5Z" fill="none" stroke="#4169e1"/>
<path class="c" d="M912.5 456.5L904.5 468.5H920.5Z" fill="none" stroke="#4169e1"/>
<path class="c" d="M914.5 456.5L906.5 468.5H922.5Z" fill="none" stroke="#4169e1"/>
<path class="c" d="M921.5 456.5L913.5 468.5H929.5Z" fill="none" stroke="#4169e1"/>
<path class="c" d="M924.5 456.5L916.5 468.5H932.5Z" fill="none" stroke="#4169e1"/>
<path class="c" d="M932.5 456.5L924.5 468.5H940.5Z" fill="none" stroke="#4169e1"/>
<path class="c" d="M934.5 456.5L926.5 468.5H942.5Z" fill="none" stroke="#4169e1"/>
<path class="c" d="M946.5 456.5L938.5 468.5H954.5Z" fill="none" stroke="#4169e1"/>
<path class="c" d="M954.5 456.5L946.5 468.5H962.5Z" fill="none" stroke="#4169e1"/>
<path class="c" d="M957.5 456.5L949.5 468.5H965.5Z" fill="none" stroke="#4169e1"/>
<path class="c" d="M965.5 456.5L957.5 468.5H973.5Z" fill="none" stroke="#4169e1"/>
<path class="c" d="M966.5 456.5L958.5 468.5H974.5Z" fill="none" stroke="#4169e1"/>
<path class="c" d="M974.5 456.5L966.5 468.5H982.5Z" fill="none" stroke="#4169e1"/>
<path class="c" d="M977.5 456.5L969.5 468.5H985.5Z" fill="none" stroke="#4169e1"/>
<path class="c" d="M984.5 456.5L976.5 468.5H992.5Z" fill="none" stroke="#4169e1"/>
<path class="c" d="M987.5 456.5L979.5 468.5H995.5Z" fill="none" stroke="#4169e1"/>
<path class="c" d="M999.5 456.5L991.5 468.5H1007.5Z" fill="none" stroke="#4169e1"/>
<path class="c" d="M1007.5 456.5L999.5 468.5H1015.5Z" fill="none" stroke="#4169e1"/>
<path class="c" d="M1010.5 456.5L1002.5 468.5H1018.5Z" fill="none" stroke="#4169e1"/>
<path class="c" d="M1017.5 456.5L1009.5 468.5H1025.5Z" fill="none" stroke="#4169e1"/>
<path class="c" d="M1020.5 456.5L1012.5 468.5H1028.5Z" fill="none" stroke="#4169e1"/>
<path class="c" d="M1027.5 456.5L1019.5 468.5H1035.5Z" fill="none" stroke="#4169e1"/>
<path class="c" d="M1029.5 456.5L1021.5 468.5H1037.5Z" fill="none" stroke="#4169e1"/>
<path class="c" d="M1038.5 456.5L1030.5 468.5H1046.5Z" fill="none" stroke="#4169e1"/>
<path class="c" d="M1039.5 456.5L1031.5 468.5H1047.5Z" fill="none" stroke="#4169e1"/>
<path class="c" d="M1052.5 456.5L1044.5 468.5H1060.5Z" fill="none" stroke="#4169e1"/>
<path class="c" d="M1060.5 456.5L1052.5 468.5H1068.5Z" fill="none" stroke="#4169e1"/>
<path class="c" d="M1062.5 456.5L1054.5 468.5H1070.5Z" fill="none" stroke="#4169e1"/>
<path class="c" d="M1070.5 456.5L1062.5 468.5H1078.5Z" fill="none" stroke="#4169e1"/>
<path class="c" d="M1072.5 456.5L1064.5 468.5H1080.5Z" fill="none" stroke="#4169e1"/>
<path class="c" d="M1080.5 456.5L1072.5 468.5H1088.5Z" fill="none" stroke="#4169e1"/>
<path class="c" d="M1081.5 456.5L1073.5 468.5H1089.5Z" fill="none" stroke="#4169e1"/>
<path class="c" d="M1090.5 456.5L1082.5 468.5H1098.5Z" fill="none" stroke="#4169e1"/>
<path class="c" d="M1092.5 456.5L1084.5 468.5H1100.5Z" fill="none" stroke="#4169e1"/>
<path class="c" d="M1104.5 456.5L1096.5 468.5H1112.5Z" fill="none" stroke="#4169e1"/>
<path class="c" d="M1113.5 456.5L1105.5 468.5H1121.5Z" fill="none" stroke="#4169e1"/>
<path class="c" d="M1115.5 456.5L1107.5 468.5H1123.5Z" fill="none" stroke="#4169e1"/>
<path class="c" d="M1123.5 456.5L1115.5 468.5H1131.5Z" fill="none" stroke="#4169e1"/>
<path class="c" d="M1124.5 456.5L1116.5 468.5H1132.5Z" fill="none" stroke="#4169e1"/>
<path class="c" d="M1132.5 456.5L1124.5 468.5H1140.5Z" fill="none" stroke="#4169e1"/>
<path class="c" d="M1135.5 456.5L1127.5 468.5H1143.5Z" fill="none" stroke="#4169e1"/>
<path class="c" d="M1142.5 456.5L1134.5 468.5H1150.5Z" fill="none" stroke="#4169e1"/>
<path class="c" d="M1145.5 456.5L1137.5 468.5H1153.5Z" fill="none" stroke="#4169e1"/>
<path class="c" d="M1157.5 456.5L1149.5 468.5H1165.5Z" fill="none" stroke="#4169e1"/>
<path class="c" d="M1165.5 456.5L1157.5 468.5H1173.5Z" fill="none" stroke="#4169e1"/>
<path class="c" d="M1168.5 456.5L1160.5 468.5H1176.5Z" fill="none" stroke="#4169e1"/>
<path class="c" d="M1175.5 456.5L1167.5 468.5H1183.5Z" fill="none" stroke="#4169e1"/>
<path class="c" d="M1178.5 456.5L1170.5 468.5H1186.5Z" fill="none" stroke="#4169e1"/>
<path class="c" d="M1185.5 456.5L1177.5 468.5H1193.5Z" fill="none" stroke="#4169e1"/>
<path class="c" d="M1187.5 456.5L1179.5 468.5H1195.5Z" fill="none" stroke="#4169e1"/>
<path class="c" d="M1196.5 456.5L1188.5 468.5H1204.5Z" fill="none" stroke="#4169e1"/>
<path class="c" d="M1197.5 456.5L1189.5 468.5H1205.5Z" fill="none" stroke="#4169e1"/>
<path class="c" d="M1210.5 456.5L1202.5 468.5H1218.5Z" fill="none" stroke="#4169e1"/>
<path class="c" d="M1218.5 456.5L1210.5 468.5H1226.5Z" fill="none" stroke="#4169e1"/>
<path class="c" d="M1220.5 456.5L1212.5 468.5H1228.5Z" fill="none" stroke="#4169e1"/>
<path class="c" d="M1228.5 456.5L1220.5 468.5H1236.5Z" fill="none" stroke="#4169e1"/>
<path class="c" d="M1230.5 456.5L1222.5 468.5H1238.5Z" fill="none" stroke="#4169e1"/>
<path class="c" d="M1238.5 456.5L1230.5 468.5H1246.5Z" fill="none" stroke="#4169e1"/>
<path class="c" d="M1240.5 456.5L1232.5 468.5H1248.5Z" fill="none" stroke="#4169e1"/>
<path class="c" d="M1248.5 456.5L1240.5 468.5H1256.5Z" fill="none" stroke="#4169e1"/>
<path class="c" d="M1250.5 456.5L1242.5 468.5H1258.5Z" fill="none" stroke="#4169e1"/>
<path class="c" d="M1263.5 456.5L1255.5 468.5H1271.5Z" fill="none" stroke="#4169e1"/>
<path class="c" d="M1271.5 456.5L1263.5 468.5H1279.5Z" fill="none" stroke="#4169e1"/>
<path class="c" d="M1273.5 456.5L1265.5 468.5H1281.5Z" fill="none" stroke="#4169e1"/>
<path class="c" d="M1281.5 456.5L1273.5 468.5H1289.5Z" fill="none" stroke="#4169e1"/>
<path class="c" d="M1283.5 456.5L1275.5 468.5H1291.5Z" fill="none" stroke="#4169e1"/>
<path class="c" d="M1290.5 456.5L1282.5 468.5H1298.5Z" fill="none" stroke="#4169e1"/>
<path class="c" d="M1293.5 456.5L1285.5 468.5H1301.5Z" fill="none" stroke="#4169e1"/>
<path class="c" d="M1301.5 456.5L1293.5 468.5H1309.5Z" fill="none" stroke="#4169e1"/>
<path class="c" d="M1303.5 456.5L1295.5 468.5H1311.5Z" fill="none" stroke="#4169e1"/>
<path class="c" d="M1315.5 456.5L1307.5 468.5H1323.5Z" fill="none" stroke="#4169e1"/>
<path class="c" d="M1323.5 456.5L1315.5 468.5H1331.5Z" fill="none" stroke="#4169e1"/>
<path class="c" d="M1326.5 456.5L1318.5 468.5H1334.5Z" fill="none" stroke="#4169e1"/>
<path class="c" d="M1333.5 456.5L1325.5 468.5H1341.5Z" fill="none" stroke="#4169e1"/>
<path class="c" d="M1336.5 456.5L1328.5 468.5H1344.5Z" fill="none" stroke="#4169e1"/>
<path class="c" d="M1343.5 456.5L1335.5 468.5H1351.5Z" fill="none" stroke="#4169e1"/>
<path class="c" d="M1345.5 456.5L1337.5 468.5H1353.5Z" fill="none" stroke="#4169e1"/>
<path class="c" d="M1353.5 456.5L1345.5 468.5H1361.5Z" fill="none" stroke="#4169e1"/>
<path class="c" d="M1356.5 456.5L1348.5 468.5H1364.5Z" fill="none" stroke="#4169e1"/>
<path class="c" d="M206.5 402.5L198.5 414.5H214.5Z" fill="#ffc020" stroke="#ffc020"/>
<path class="c" d="M200.0 371.5h13M206.5 365.0v13" fill="none" stroke="#008040"/>
<path class="c" d="M206.5 340.5L198.5 328.5H214.5Z" fill="none" stroke="#c080ff"/>
<path class="c" d="M206.5 359.5L198.5 347.5H214.5Z" fill="none" stroke="#306080"/>
<rect class="c" x="101.5" y="57.5" width="1265" height="482" fill="none" stroke="#000"/>
<text x="1063.1" y="76" text-anchor="start" textLength="212.4" lengthAdjust="spacing" xml:space="preserve">"Ypingresult.txt" using 1:2</text>
<path class="c" d="M1288 72.5H1345" stroke="#ff0000" fill="none"/>
<text x="1044.0" y="95" text-anchor="start" textLength="231.5" lengthAdjust="spacing" xml:space="preserve">"YTimetcpping.txt" using 1:2</text>
<path class="c" d="M1288 91.5H1345" stroke="#00c000" fill="none"/>
<text x="996.0" y="114" text-anchor="start" textLength="279.5" lengthAdjust="spacing" xml:space="preserve">"YCustPingSiteTimes.txt" using 1:2</text>
<path class="c" d="M1288 110.5H1345" stroke="#0080ff" fill="none"/>
<text x="1050.4" y="133" text-anchor="start" textLength="225.1" lengthAdjust="spacing" xml:space="preserve">"Yofflineresult.txt" using 1:2</text>
<rect class="c" x="1310.5" y="123.5" width="12" height="12" fill="none" stroke="#c000ff"/>
<text x="1038.1" y="152" text-anchor="start" textLength="237.4" lengthAdjust="spacing" xml:space="preserve">"Ytcpoff_record.txt" using 1:2</text>
<rect class="c" x="1310" y="142" width="13" height="13" fill="#00eeee"/>
<text x="1077.2" y="171" text-anchor="start" textLength="198.3" lengthAdjust="spacing" xml:space="preserve">"Ycurltime.txt" using 1:2</text>
<path class="c" fill="#c04000" d="M1313 162h7v1h-7zM1313 172h7v1h-7zM1311 164h1v7h-1zM1321 164h1v7h-1zM1312 163h1v1h-1zM1313 163h1v1h-1zM1312 164h1v1h-1zM1312 171h1v1h-1zM1313 171h1v1h-1zM1312 170h1v1h-1zM1320 163h1v1h-1zM1319 163h1v1h-1zM1320 164h1v1h-1zM1320 171h1v1h-1zM1319 171h1v1h-1zM1320 170h1v1h-1zM1316 161h1v1h-1zM1316 173h1v1h-1zM1310 167h1v1h-1zM1322 167h1v1h-1z"/>
<text x="1048.5" y="190" text-anchor="start" textLength="227.0" lengthAdjust="spacing" xml:space="preserve">"Ycurldnstime.txt" using 1:2</text>
<path class="c" fill="#c8c800" d="M1316 180h1v1h-1z M1316 192h1v1h-1zM1313 181h7v1h-7zM1312 182h9v1h-9zM1311 183h11v1h-11zM1311 184h11v1h-11zM1311 185h11v1h-11zM1311 186h11v1h-11zM1311 187h11v1h-11zM1311 188h11v1h-11zM1311 189h11v1h-11zM1312 190h9v1h-9zM1313 191h7v1h-7z"/>
<text x="1008.8" y="209" text-anchor="start" textLength="266.7" lengthAdjust="spacing" xml:space="preserve">"YCustPingTimeout.txt" using 1:2</text>
<path class="c" d="M1316.5 197.5L1308.5 209.5H1324.5Z" fill="none" stroke="#4169e1"/>
<text x="1027.9" y="228" text-anchor="start" textLength="247.6" lengthAdjust="spacing" xml:space="preserve">"Ypingtargetchange" using 1:2</text>
<path class="c" d="M1316.5 216.5L1308.5 228.5H1324.5Z" fill="#ffc020" stroke="#ffc020"/>
<text x="1041.4" y="247" text-anchor="start" textLength="234.1" lengthAdjust="spacing" xml:space="preserve">"YHPpingresult.txt" using 1:2</text>
<path class="c" d="M1310.0 243.5h13M1316.5 237.0v13" fill="none" stroke="#008040"/>
<text x="1023.1" y="266" text-anchor="start" textLength="252.4" lengthAdjust="spacing" xml:space="preserve">"YpingtargetISrouter" using 1:2</text>
<path class="c" d="M1316.5 270.5L1308.5 258.5H1324.5Z" fill="none" stroke="#c080ff"/>
<text x="1116.2" y="285" text-anchor="start" textLength="159.3" lengthAdjust="spacing" xml:space="preserve">"Ynoipv6" using 1:2</text>
<path class="c" d="M1316.5 289.5L1308.5 277.5H1324.5Z" fill="none" stroke="#306080"/>
</svg></body></html>
